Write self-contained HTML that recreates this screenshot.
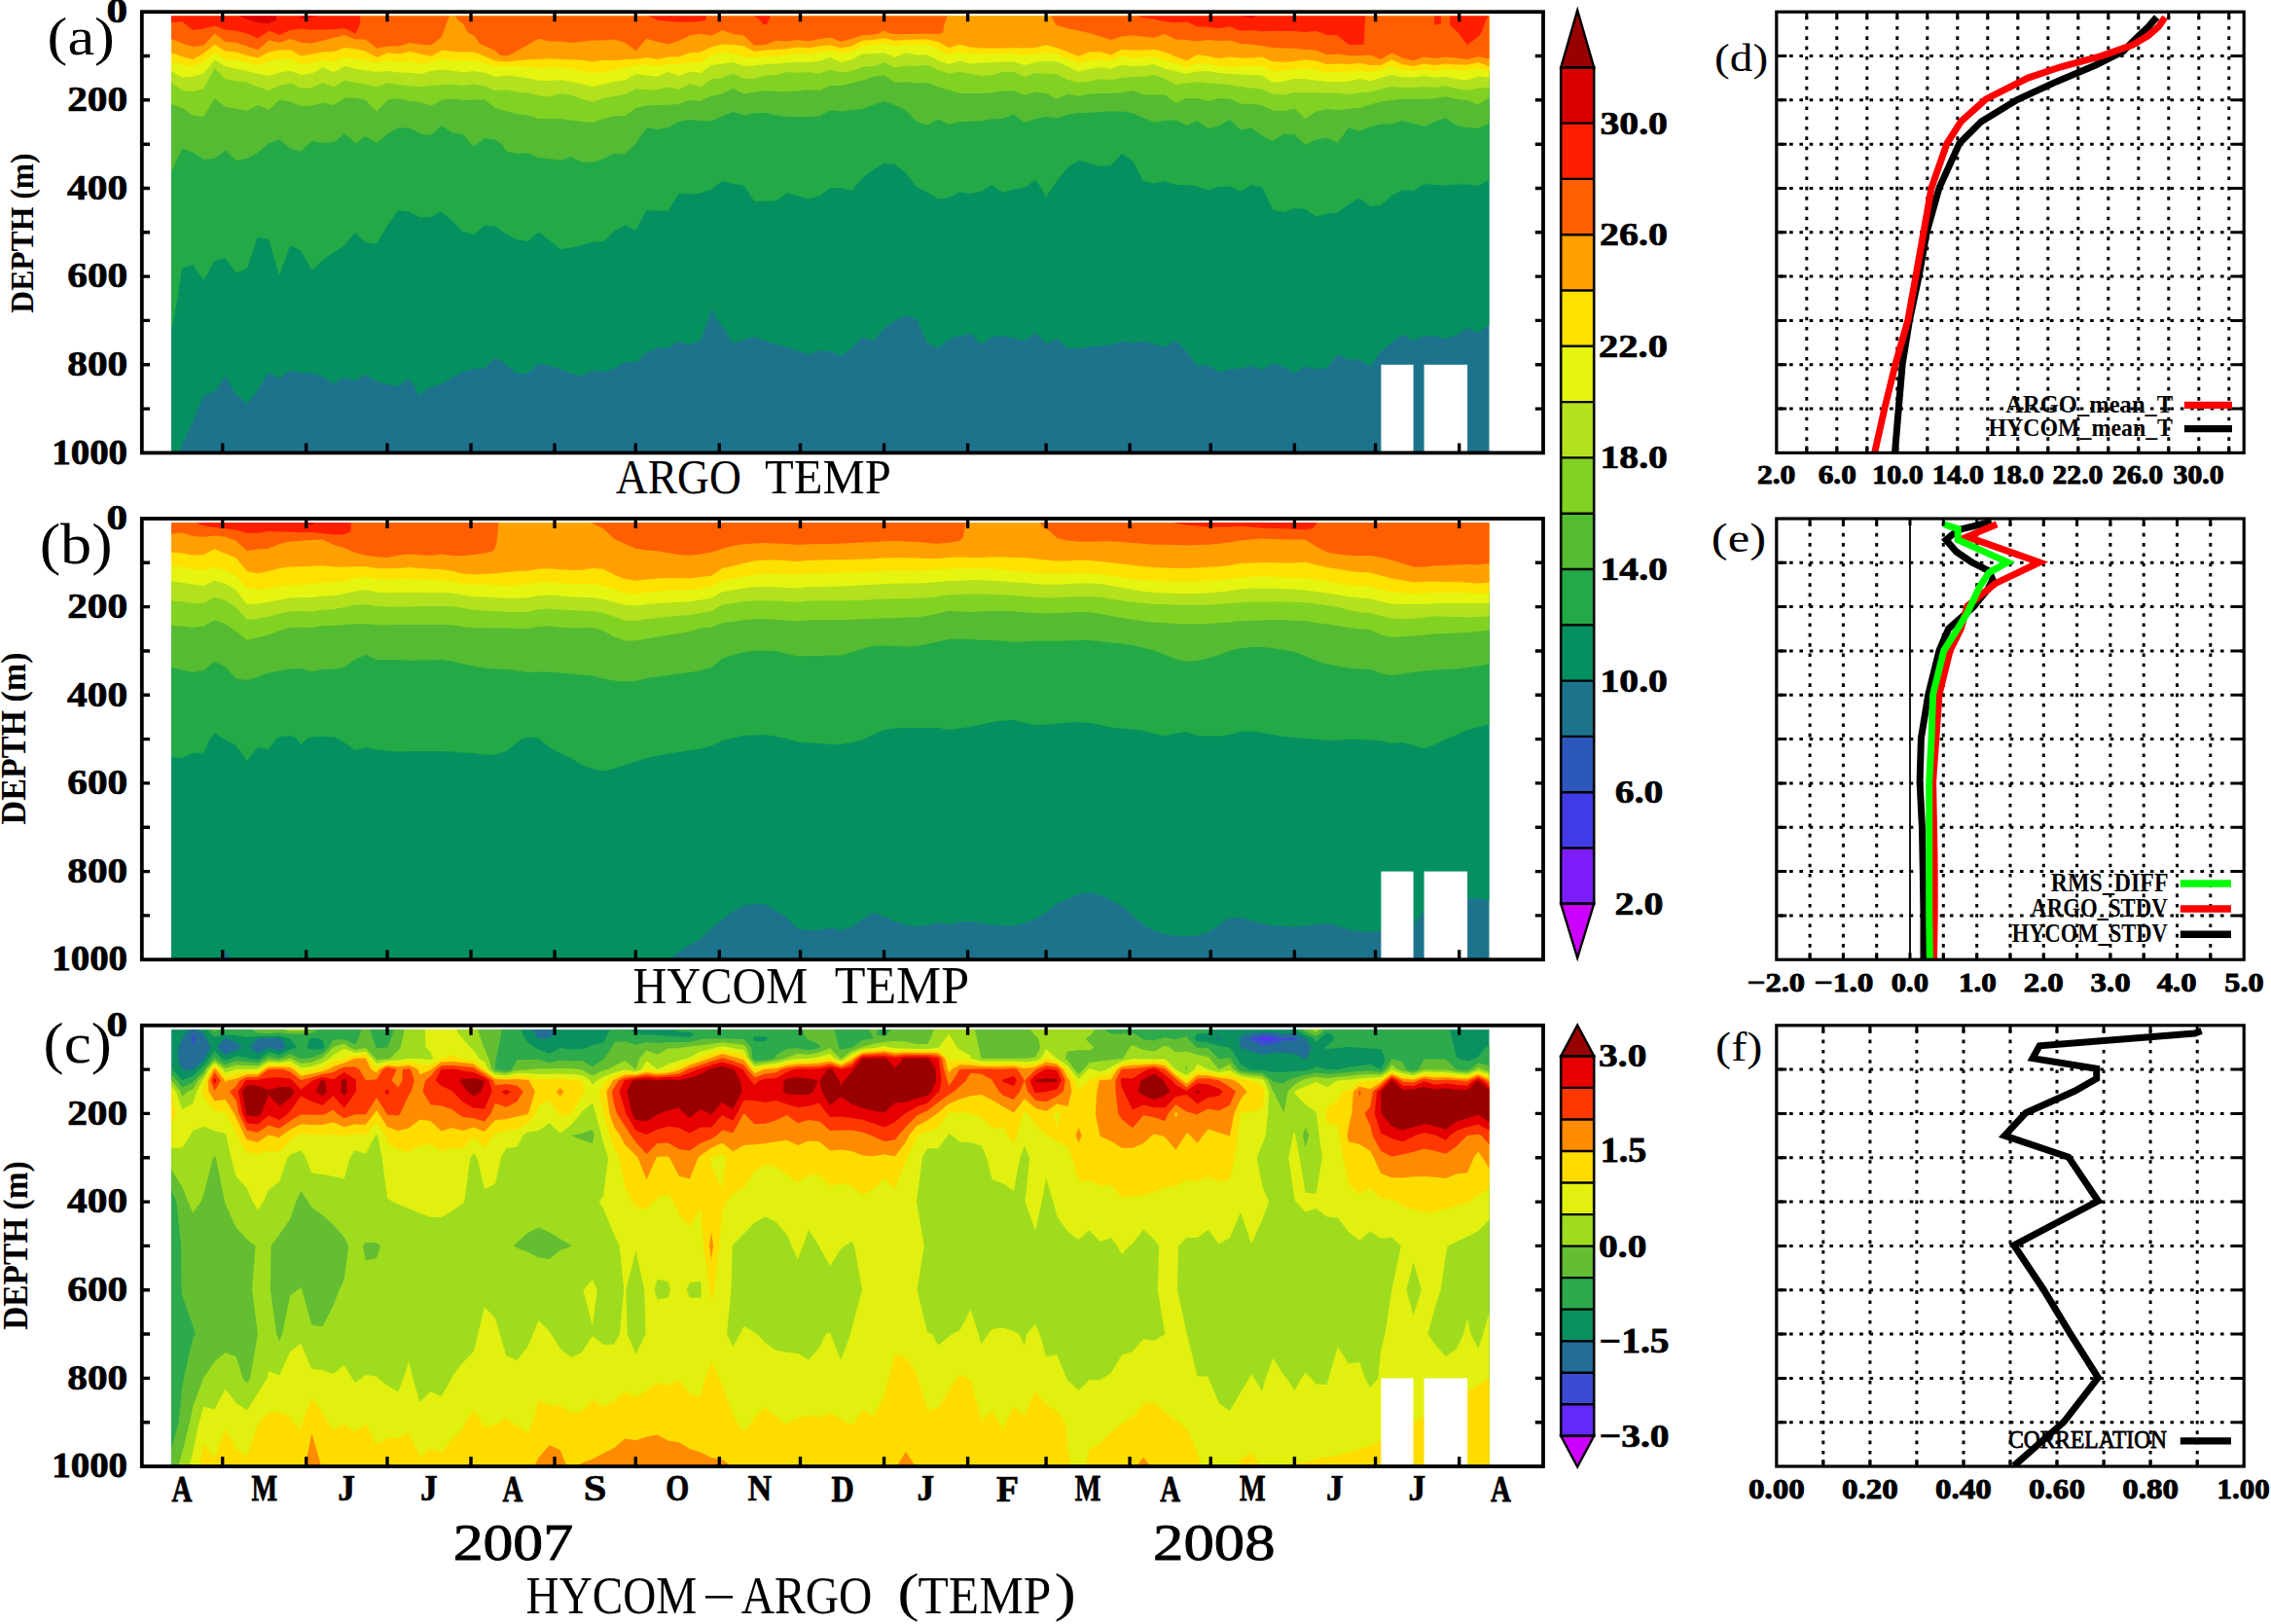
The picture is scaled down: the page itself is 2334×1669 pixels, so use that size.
<!DOCTYPE html>
<html><head><meta charset="utf-8"><title>HYCOM-ARGO TEMP</title>
<style>html,body{margin:0;padding:0;background:#fff}svg{display:block}text{font-family:"Liberation Serif",serif}</style></head>
<body>
<svg width="2334" height="1669" viewBox="0 0 2334 1669">
<g id="pa"><rect x="176.1" y="16.4" width="1354.4" height="449" fill="#1E738C"/>
<polygon fill="#05915F" points="176.1,463.6 185,463.6 187.2,457 198.2,433 209.4,406.6 220.4,402.6 231.6,386.6 242.6,405 253.8,415 264.8,401 276,382.6 287,389 298.2,380.6 309.2,383 320.4,383.4 331.4,387 342.6,394 353.6,388 364.8,391 375.8,385 387,391.4 398,395 409.2,397 420.2,388.6 431.4,406.6 442.4,397.4 453.6,395 464.6,388 475.8,382 486.8,379 498,378.6 509,367 520.2,375 531.2,384 542.4,384 553.4,373.4 564.6,376 575.6,379 586.8,384 597.8,386.6 609,380.6 620,382 631.2,379 642.2,372 653.4,372.6 664.4,362.6 675.6,357.4 686.6,357.4 697.8,350.6 708.8,354.6 720,349.4 728,329 731.6,316.6 736,328 742.2,335 753.2,353 764.4,349 775.4,346 786.6,350 797.6,354 808.8,356.6 819.8,360.6 831,364.6 842,360 853.2,361 864.2,366 875.4,357.4 886.4,346.6 897.6,350.6 908.6,337.4 919.8,329.4 930.8,324.6 942,328 953,352.6 964.2,358 975.2,348.6 986.4,345.4 997.4,342.6 1008.6,354 1019.6,346 1030.8,345.4 1041.8,347 1053,350.6 1064,342 1075.2,353 1086.2,348 1097.4,358 1108.4,358 1119.6,356 1130.6,355.4 1141.8,354.6 1152.8,350.6 1164,352.6 1175,350.6 1186.2,354 1197.2,356.6 1208.4,350 1219.4,361 1230.6,376 1241.6,375 1252.8,382.6 1263.8,379.4 1275,379 1286,376 1297.2,380 1308.2,373 1319.4,377 1330.4,383.4 1341.6,376 1352.6,379.4 1363.8,378.6 1374.8,364 1386,369.4 1397,369.4 1408.2,376.6 1419.2,361 1430.4,352 1441.4,343.4 1452.6,350 1463.6,345 1474.8,345.4 1485.8,348 1497,344.6 1508.1,337 1519.2,342 1530.5,334 1530.5,16.4 176.1,16.4"/>
<polygon fill="#23AA46" points="176.1,340 182,309 187.2,275.4 198.2,272 209.4,288 220.4,268 231.6,265.4 242.6,280.6 253.8,276 264.8,244 276,245.4 287,283 298.2,252 309.2,257.4 320.4,277.4 331.4,267.4 342.6,259.4 353.6,252.6 364.8,239 375.8,249 387,250.6 398,232 409.2,216 420.2,217.4 431.4,223.4 442.4,223 453.6,217.4 464.6,227 475.8,238 486.8,241 498,231.4 509,232.6 520.2,240.6 531.2,246 542.4,248 553.4,238.6 564.6,246.6 575.6,256 586.8,254.6 597.8,252 609,248.6 620,248.3 631.2,237.4 642.2,231.4 653.4,236.6 664.4,216 675.6,216.6 686.6,216.6 697.8,198.6 708.8,199.4 720,198.6 731,194.6 742.2,186 753.2,189 764.4,190.6 775.4,207 786.6,206.6 797.6,206.6 808.8,198 819.8,201 831,204.6 842,201.4 853.2,193 864.2,193 875.4,196 886.4,182.6 897.6,174.6 908.6,168 919.8,169 930.8,177.4 942,192 953,197.4 964.2,204.6 975.2,203 986.4,197.4 997.4,199 1008.6,196.6 1019.6,190 1030.8,198 1041.8,194.6 1053,193 1064,184.8 1070,193 1075.2,202.6 1081,193 1086.2,186 1097.4,172 1108.4,165 1119.6,167.4 1130.6,171 1141.8,170 1152.8,158 1164,165 1175,186 1186.2,188.6 1197.2,186 1208.4,190 1219.4,190 1230.6,191.4 1241.6,195.4 1252.8,192 1263.8,191.4 1275,196.6 1286,190 1297.2,192.6 1308.2,215.4 1319.4,218 1330.4,214 1341.6,215 1352.6,222.6 1363.8,219.4 1374.8,218.6 1386,210 1397,203.4 1408.2,212 1419.2,210.6 1430.4,201 1441.4,195.4 1452.6,196 1463.6,189 1474.8,190 1485.8,190.6 1497,189.4 1508.1,189.4 1519.2,191 1530.5,184.6 1530.5,16.4 176.1,16.4"/>
<polygon fill="#55BB32" points="176.1,177 187.2,152.6 198.2,156.6 209.4,164 220.4,163 231.6,154.6 242.6,165 253.8,163 264.8,157 276.2,147.2 287.3,143.2 298.3,152.6 309.2,155.4 320.6,145 331.8,146.7 343.1,146.1 354.3,137.5 365.5,147.4 375.4,140.1 387.3,146.7 398.5,137.5 409.8,131.3 421,131.8 432.2,137.5 443.4,138.8 454,128.9 464.6,136.2 475.7,138.1 486.9,150.6 498,142.1 509.1,143.4 515.5,148 520.2,155.4 531.2,158 542.4,157.4 553.4,162 564.6,163 575.6,165 586.8,161 597.8,166.6 609,167 620,163.2 631.2,157.4 642.2,158.6 653.4,147.4 664.5,131.3 675.6,133.1 686.7,130.9 697.8,124.9 708.9,122.9 720,124.3 731.1,124.3 742.2,119.6 753.3,115 764.4,118.6 775.5,116.3 786.6,115.9 797.7,118.6 808.8,119.9 819.9,119.9 831,120.3 842.1,119.4 853.2,113.3 864.3,114.4 875.4,113.3 886.5,112 897.6,107.8 908.7,104.1 919.7,108 930.8,113.3 941.9,124.9 953,128.6 964.1,122.5 975.2,127.8 986.3,124.9 997.4,124.9 1008.5,124.3 1019.6,122.3 1030.7,122.3 1041.8,117.3 1052.9,126 1064,122.3 1075.1,119.9 1086.2,121.6 1097.3,117.7 1108.4,116.3 1119.5,115.7 1130.6,115 1141.7,114.6 1152.8,114.6 1163.9,116.3 1175,121.2 1186.1,125.6 1197.2,123.9 1208.3,123.3 1219.4,128.9 1230.5,124.3 1241.6,132.2 1252.7,129.6 1263.8,122.9 1274.9,133.5 1286,131.8 1297.1,139.5 1308.2,144.9 1319.3,138 1330.4,138.1 1341.5,149 1352.6,143.4 1363.7,141.8 1374.8,147.1 1385.9,131.3 1397,134.8 1408.1,130.2 1419.2,127.8 1430.3,127.6 1441.4,124.3 1452.5,126.9 1463.6,129.9 1474.7,124.9 1485.8,121.2 1496.9,128.9 1508,131.3 1519.1,131.8 1530.5,126.9 1530.5,16.4 176.1,16.4"/>
<polygon fill="#82D223" points="176.1,107.1 187.2,111.1 198.1,118.6 209.2,119.9 220.6,101.1 231.4,109.7 242.7,111.7 253.9,113.7 265.1,108 276.3,113 287.3,102.5 298.4,104.5 309.4,109.1 320.6,108.4 331.8,105.4 343.1,108 354.3,100.5 365.5,100.5 375.4,102.5 387.3,114.4 398.5,102.5 409.8,101.1 421,104.1 432.2,105.1 443.4,108.8 454,102.5 468.5,101.8 475.7,102.9 486.9,102.5 498,102.5 509.1,111.1 520.2,114.6 531.3,117 542.4,118.6 553.5,122 564.6,122 575.7,122 586.8,123.6 597.9,124.9 609,126 620.1,122 631.2,119.4 642.3,119 653.4,111.1 664.5,108.4 675.6,108 686.7,107.8 697.8,107.1 708.9,102.7 720,104.1 731.1,98.5 742.2,96.5 753.3,90.8 764.4,96.5 775.5,94.5 786.6,93 797.7,93.9 808.8,93.9 819.9,93.5 831,92.2 842.1,93 853.2,87.9 864.3,87.9 875.4,85.6 886.5,82.4 897.6,78.7 908.7,77.4 919.7,85 930.8,84.2 941.9,85.6 953,85 964.1,89.3 975.2,92.6 986.3,95.9 997.4,96.1 1008.5,96.1 1019.6,95.2 1030.7,93.5 1041.8,92.9 1052.9,97.8 1064,94.5 1075.1,95.9 1086.2,101.8 1097.3,96.5 1108.4,98.8 1119.5,96.5 1130.6,96.1 1141.7,96.1 1152.8,95.2 1163.9,93.2 1175,97.2 1186.1,97.2 1197.2,97.5 1208.3,105.8 1219.4,101.1 1230.5,101.1 1241.6,104.1 1252.7,101.1 1263.8,101.4 1274.9,106.7 1286,106.7 1297.1,108.2 1308.2,113.4 1319.3,113.9 1330.4,111.8 1341.5,122 1352.6,114.4 1363.7,112 1374.8,113.3 1385.9,111.7 1397,111.1 1408.1,107.5 1419.2,104.5 1430.3,103.1 1441.4,101.8 1452.5,101.8 1463.6,101.8 1474.7,101.1 1485.8,99.2 1496.9,101.8 1508,103.1 1519.1,107.5 1526.5,102.5 1530.5,101.1 1530.5,16.4 176.1,16.4"/>
<polygon fill="#B4E11E" points="176.1,84.6 187.2,93 198.1,93.9 209.2,91.6 220.6,69.7 231.4,81.3 242.7,83.3 253.9,84.6 265.1,89.3 276.3,93 287.3,87.9 298.4,85.6 309.4,90.8 320.6,89.9 331.8,85 343.1,89.3 354.3,82.7 365.5,85 375.4,86.6 387.3,89.3 398.5,85.3 409.8,86.9 421,88.2 432.2,89 443.4,87.7 454,87.3 464.6,86.4 475.7,87.9 486.9,86.4 498,88.6 509.1,93.2 520.2,92.2 531.3,94.5 542.4,95.2 553.5,98.2 564.6,99.6 575.7,96.1 586.8,97.5 597.9,101.8 609,104.8 620.1,101.1 631.2,98.8 642.3,96.9 653.4,91.2 664.5,92.2 675.6,92.2 686.7,89.5 697.8,91.9 708.9,86 720,89.3 731.1,81.3 742.2,80 753.3,75.4 764.4,80.7 775.5,80.7 786.6,77.4 797.7,77.1 808.8,74.1 819.9,74.7 831,74.1 842.1,75.4 853.2,71.8 864.3,74.5 875.4,73.1 886.5,68.4 897.6,68.1 908.7,64.2 919.7,69.4 930.8,67.5 941.9,67.9 953,66.8 964.1,72.1 975.2,75.4 986.3,73.7 997.4,76.1 1008.5,78 1019.6,77.1 1030.7,74.1 1041.8,73.7 1052.9,79 1064,75 1075.1,75.8 1086.2,76.3 1097.3,82 1108.4,84.6 1119.5,83.7 1130.6,81.3 1141.7,82 1152.8,80 1163.9,79 1175,78.7 1186.1,77.1 1197.2,80.7 1208.3,86.9 1219.4,85.6 1230.5,84.2 1241.6,85.6 1252.7,86 1263.8,87.3 1274.9,89 1286,90.6 1297.1,91.4 1308.2,96.5 1319.3,97.6 1330.4,94.9 1341.5,95.2 1352.6,95.2 1363.7,95.6 1374.8,95.6 1385.9,96.9 1397,95.2 1408.1,94.5 1419.2,91.6 1430.3,89 1441.4,89.9 1452.5,89.9 1463.6,89 1474.7,89.9 1485.8,88.2 1496.9,91.2 1508,92.6 1519.1,90.6 1530.5,89.9 1530.5,16.4 176.1,16.4"/>
<polygon fill="#E5F50F" points="176.1,73.1 187.2,79.4 198.1,78.7 209.2,75.4 220.6,61.5 231.4,68.1 242.7,70.8 253.9,73.1 265.1,75.8 276.3,78 287.3,74.5 298.4,72.7 309.4,77.1 320.6,75.4 331.8,69.2 343.1,74.1 354.3,68.1 365.5,70.8 375.4,72.4 387.3,74.1 398.5,73.1 409.8,74.5 421,74.7 432.2,76.1 443.4,73.1 454,71.4 468.5,73.1 475.7,74.5 486.9,73.1 498,74.7 509.1,79 520.2,77.6 531.3,78.7 542.4,80.3 553.5,82.4 564.6,82.9 575.7,82 586.8,83.7 597.9,86.6 609,89 620.1,86.4 631.2,84 642.3,82.4 653.4,75.8 664.5,77.6 675.6,78.7 686.7,73.7 697.8,78 708.9,73.4 720,75 731.1,67.1 742.2,65.5 753.3,64 764.4,67.9 775.5,67.5 786.6,66.1 797.7,65.5 808.8,64.4 819.9,63.5 831,63.9 842.1,62.8 853.2,59.1 864.3,64.2 875.4,61.3 886.5,55.2 897.6,55.2 908.7,54.3 919.7,58.9 930.8,54.3 941.9,56.5 953,56.2 964.1,62.2 975.2,66.1 986.3,62.6 997.4,65.5 1008.5,64.4 1019.6,64.2 1030.7,63.5 1041.8,63.2 1052.9,67.1 1064,63.9 1075.1,63.1 1086.2,63.5 1097.3,68.1 1108.4,73.7 1119.5,71 1130.6,69.2 1141.7,70.8 1152.8,66.8 1163.9,68.1 1175,67.5 1186.1,66.1 1197.2,70.8 1208.3,73.1 1219.4,76.1 1230.5,73.4 1241.6,73.1 1252.7,75 1263.8,75.8 1274.9,76.3 1286,77.1 1297.1,77.5 1308.2,84.8 1319.3,83.5 1330.4,81.1 1341.5,81.3 1352.6,82.4 1363.7,84 1374.8,84 1385.9,83.7 1397,81.1 1408.1,83.3 1419.2,80 1430.3,76.7 1441.4,79.4 1452.5,79.4 1463.6,78 1474.7,79.7 1485.8,78.7 1496.9,81.3 1508,82.4 1519.1,78.4 1530.5,79.4 1530.5,16.4 176.1,16.4"/>
<polygon fill="#FFE100" points="176.1,63.5 187.2,67.1 198.1,68.1 209.2,63.5 220.6,54.3 231.4,60.9 242.7,61.5 253.9,64.2 265.1,66.8 276.3,62.8 287.3,60.9 298.4,60.9 309.4,66.1 320.6,64.2 331.8,61.8 343.1,63.5 354.3,58.6 365.5,60.9 375.4,62.2 387.3,64.8 398.5,61.8 409.8,63.9 421,62.2 432.2,65.5 443.4,63.5 454,60.2 468.5,62.8 475.7,62.8 486.9,62.2 498,64.8 509.1,68.1 520.2,68.1 531.3,67.9 542.4,68.4 553.5,69.7 564.6,68.8 575.7,69.2 586.8,70.8 597.9,73.1 609,75 620.1,74.1 631.2,72.1 642.3,70.1 653.4,67.1 664.5,66.5 675.6,68.1 686.7,65.5 697.8,66.1 708.9,63.9 720,64.4 731.1,56.2 742.2,53.3 753.3,54.9 764.4,58.6 775.5,59.5 786.6,57.8 797.7,57.8 808.8,56.5 819.9,54.9 831,55.6 842.1,53.6 853.2,52 864.3,55.2 875.4,52.9 886.5,47.6 897.6,46.3 908.7,45 919.7,47.3 930.8,45.7 941.9,45.7 953,45.4 964.1,51 975.2,56.5 986.3,53.3 997.4,55.2 1008.5,55.6 1019.6,56 1030.7,55.2 1041.8,54.9 1052.9,57.3 1064,55.6 1075.1,54.3 1086.2,55.6 1097.3,60.9 1108.4,64.8 1119.5,62.2 1130.6,60.9 1141.7,63.1 1152.8,57.3 1163.9,59.9 1175,59.1 1186.1,57.8 1197.2,62.2 1208.3,64.8 1219.4,68.8 1230.5,64.4 1241.6,65.5 1252.7,68.1 1263.8,68.8 1274.9,68.1 1286,67.5 1297.1,68 1308.2,73.6 1319.3,72.9 1330.4,71.2 1341.5,70.1 1352.6,71.8 1363.7,74.5 1374.8,74.1 1385.9,73.7 1397,72.4 1408.1,74.5 1419.2,71.8 1430.3,67.5 1441.4,72.1 1452.5,73.1 1463.6,71.4 1474.7,73.1 1485.8,71 1496.9,72.1 1508,72.4 1519.1,70.1 1530.5,73.7 1530.5,16.4 176.1,16.4"/>
<polygon fill="#FFA000" points="176.1,54.3 187.2,58.2 198.1,60.9 209.2,54.9 220.6,45.7 231.4,52.5 242.7,53.6 253.9,56.9 265.1,59.5 276.3,53.6 287.3,51.6 298.4,51.2 309.4,57.6 320.6,55.6 331.8,53.6 343.1,52.9 354.3,49 365.5,50.3 375.4,52.5 387.3,58.9 398.5,54.3 409.8,55.6 421,52.9 432.2,55.6 443.4,57.8 454,51.6 468.5,53.6 475.7,53.6 486.9,53.6 498,57.8 509.1,62.6 520.2,63.5 531.3,62.2 542.4,61.3 553.5,60.9 564.6,60.2 575.7,60.9 586.8,61.3 597.9,61.8 609,63.5 620.1,61.8 631.2,62.2 642.3,60.9 653.4,60.9 664.5,59.1 675.6,60.9 686.7,58.6 697.8,58.2 708.9,54.3 720,53.6 731.1,48.3 742.2,45.4 753.3,46 764.4,47.3 775.5,52.9 786.6,51.6 797.7,51 808.8,50.3 819.9,48.6 831,49.6 842.1,47.6 853.2,46.3 864.3,49.6 875.4,47.3 886.5,41.7 897.6,41 908.7,39.3 919.7,41.7 930.8,41 941.9,40.6 953,40.6 964.1,43 975.2,49 986.3,45.7 997.4,48.6 1008.5,49.4 1019.6,49.6 1030.7,49.4 1041.8,49.2 1052.9,49.6 1064,49 1075.1,46.3 1086.2,49 1097.3,53.6 1108.4,57.8 1119.5,53.6 1130.6,53.3 1141.7,56.5 1152.8,51 1163.9,51.6 1175,51.6 1186.1,50.7 1197.2,53.6 1208.3,58.2 1219.4,62.2 1230.5,56.2 1241.6,57.8 1252.7,59.9 1263.8,58.6 1274.9,59.5 1286,59.5 1297.1,58.4 1308.2,63.2 1319.3,63.9 1330.4,63.1 1341.5,61.3 1352.6,62.6 1363.7,66.1 1374.8,65.5 1385.9,66.1 1397,64.8 1408.1,67.1 1419.2,67.1 1430.3,61.3 1441.4,66.1 1452.5,68.1 1463.6,65.5 1474.7,67.1 1485.8,65.5 1496.9,66.5 1508,66.5 1519.1,63.9 1530.5,68.1 1530.5,16.4 176.1,16.4"/>
<polygon fill="#FF5F00" points="176.1,40.1 187.2,44.6 198.1,47.9 209.2,46.7 220.6,34.4 231.4,43 242.7,43.7 253.9,47.6 265.1,51.2 276.3,41.4 287.3,43.7 298.4,40.1 309.4,43.7 320.6,44.6 331.8,41.7 343.1,38.8 354.3,36.2 365.5,40.6 375.4,40.6 387.3,49.6 398.5,47.6 409.8,47.6 421,44.1 432.2,45.7 443.4,46.3 454,37.7 459.3,23.2 461.9,16.4 461.9,16.4 176.1,16.4"/>
<polygon fill="#FF5F00" points="467.9,16.4 471.2,21.2 475.9,24.5 481.1,33.8 487.1,36.4 493.7,45.4 498.3,47 509.1,52.3 513.5,56.5 520.1,57.3 524.7,56.2 531.3,52.3 542.6,45.9 553.5,39.7 564.6,42.4 575.7,42.4 586.8,44.1 597.9,42.8 609,41.4 620.1,41.4 631.2,40.6 642.3,43.7 653.4,52.3 664.5,39.7 675.6,43 686.7,45.4 697.8,41.7 708.9,36.4 720,34.8 731.1,36.7 742.2,31.1 753.3,34.9 764.4,36.4 775.5,46.7 786.6,45.9 797.7,41.7 808.8,42.4 819.9,41 831,42.4 842.1,40.1 853.2,38.4 864.3,42.8 875.4,39.7 886.5,36.2 897.6,35.4 903.2,34.4 908.7,31.5 913.8,34 919.7,35.1 930.8,35.1 941.9,34.8 953,34.8 964.1,34.8 969.3,33.8 969.9,27.2 973.6,16.4 973.6,16.4 467.9,16.4"/>
<polygon fill="#FF5F00" points="1080.3,16.4 1085.6,25.9 1097.3,29.2 1108.4,31.4 1119.5,34 1130.6,37.5 1141.7,41 1152.8,37.5 1163.9,36.2 1175,37.7 1186.1,38.8 1197.2,35.1 1208.3,40.6 1219.4,41 1230.5,42.4 1241.6,41 1252.7,42 1263.8,41.4 1274.9,45 1286,45.4 1297.1,47.3 1308.2,49 1319.3,49.5 1330.4,49.8 1341.5,51 1352.6,51.6 1363.7,56.2 1374.8,55.6 1385.9,56.9 1397,57.3 1408.1,56.5 1419.2,60.9 1430.3,54.3 1441.4,59.5 1452.5,62.2 1463.6,58.6 1474.7,59.9 1485.8,58.6 1496.9,59.5 1508,60.9 1519.1,58.2 1530.5,60.5 1530.5,16.4 1080.3,16.4"/>
<polygon fill="#FF1E00" points="1168.8,16.4 1175,18.2 1186.1,19.5 1197.2,22.2 1208.3,23.2 1219.4,22.5 1230.5,27.2 1241.6,27.8 1252.7,29.2 1263.8,27.2 1274.9,31.8 1286,30.9 1297.1,32.3 1308.2,31.8 1319.3,32 1330.4,32.1 1341.5,33.1 1352.6,31.8 1363.7,35.8 1374.8,36.4 1385.9,45.7 1397,45.9 1402,45.4 1402.3,29.8 1403.3,16.4 1403.3,16.4 1168.8,16.4"/>
<polygon fill="#FF1E00" points="175.9,16.4 175.9,23.2 187.2,21.9 198.1,30.9 209.2,29.6 220.6,26.5 231.4,30.5 242.7,31.8 253.9,34.4 265.1,39.3 276.3,31.8 287.3,35.8 298.4,31.1 309.4,29.6 320.6,30.5 331.8,30.5 343.1,30.1 354.3,28.9 365.5,34.4 370.1,24.5 370.1,16.4"/>
<polygon fill="#D90000" points="246.6,16.4 254.5,19.9 265.1,23.2 276.3,24.3 284.3,20.6 284.3,16.4"/>
<polygon fill="#D90000" points="308,19.2 327.2,16.4 310,16.4"/>
<polygon fill="#FF1E00" points="666.7,16.4 675.6,20.6 686.7,21.9 697.8,22.8 708.9,22.8 720,21.9 725.5,20.6 726.2,16.4"/>
<polygon fill="#FF1E00" points="775.1,16.4 781,20.6 783.7,24.8 788.3,25.2 791.6,16.4"/>
<polygon fill="#FF1E00" points="1474,16.4 1480.9,16.4 1480.9,24.8 1474,25.6"/>
<polygon fill="#FF1E00" points="1490.1,16.4 1490.1,25.2 1498.7,33.8 1508,46.3 1519.1,37.7 1522.5,33.8 1526.5,21.9 1529.8,16.4"/>
<polygon fill="#D90000" points="1275.1,16.4 1291,16.4 1285.7,18.2"/>
<rect x="1419.4" y="374.8" width="33.2" height="91.6" fill="#fff"/>
<rect x="1463.6" y="374.8" width="44.5" height="91.6" fill="#fff"/></g>
<g id="pb"><rect x="176.1" y="537.2" width="1354.4" height="449" fill="#1E738C"/>
<polygon fill="#05915F" points="176.1,986.2 688,986.2 697.8,978 708.8,971 720,965 731,954.6 742.2,945 753.2,936.6 764.4,930.6 775.4,929 786.6,929.4 797.6,936 808.8,943 819.8,954.6 831,956 842,956 853.2,953.4 864.2,956 875.4,953 886.4,944.6 897.6,938 908.6,942 919.8,947 930.8,950.6 942,952 953,951 964.2,948 975.2,950 986.4,947.4 997.4,947 1008.6,948.6 1019.6,950.6 1030.8,951.4 1041.8,951 1053,949 1064,944 1075.2,937.4 1086.2,928.6 1097.4,924 1108.4,918.6 1119.6,917.4 1130.6,919.4 1141.8,925 1152.8,931 1164,940.6 1175,950 1186.2,956.6 1197.2,960 1208.4,961.4 1219.4,962 1230.6,961.4 1241.6,958 1252.8,951 1263.8,943 1275,942.6 1286,946.6 1297.2,949 1308.2,951.4 1319.4,952 1330.4,952.6 1341.6,951.4 1352.6,950 1363.8,949 1374.8,951.4 1386,955.4 1397,957 1408.2,957.4 1419.2,956.6 1436,954 1452.6,950.6 1463.6,936 1486,927 1508.1,923 1519.2,923.4 1530.5,925.4 1530.5,537.2 176.1,537.2"/>
<polygon fill="#23AA46" points="176.1,778 187.2,779 198.2,774 209.4,773.4 216,759 220.4,753.4 231.6,760 242.6,766 253.8,782 264.8,768 276,770 284,759 287,757.4 298.2,756 305,759 309.2,765 316,759 320.4,757.4 331.4,757 342.6,757.4 348,759 353.6,763 364.8,771 375.8,768 387,770.6 398,771.4 409.2,772.6 420.2,772 431.4,772 442.4,772 453.6,772 464.6,772.6 475.8,773.4 486.8,774 498,775.4 509,775.4 520.2,772 531.2,763 537,759 542.4,757.4 553.4,758.6 564.6,768 575.6,774 586.8,779 597.8,786 609,790 620,792.3 631.2,790 642.2,786 653.4,782.6 664.4,779 675.6,776.6 686.6,774.6 697.8,773 708.8,771 720,769.4 731,766.6 742.2,761 753.2,758.6 764.4,756 775.4,755.4 786.6,755 797.6,757 808.8,759 819.8,762.6 831,763 842,764 853.2,765 864.2,765 875.4,763 886.4,760.6 897.6,755 908.6,750 919.8,748.6 930.8,748 942,748 953,748 964.2,748 975.2,750 986.4,748.6 997.4,747 1008.6,744.6 1019.6,742 1030.8,740.6 1041.8,740 1053,743 1064,745 1075.2,744.6 1086.2,743.4 1097.4,742.6 1108.4,742 1119.6,743 1130.6,745 1141.8,747.4 1152.8,748.6 1164,749.4 1175,751 1186.2,754 1197.2,756.6 1208.4,753.4 1219.4,752 1230.6,756 1241.6,756.6 1252.8,756.6 1263.8,755 1275,752 1286,751.4 1297.2,753 1308.2,755 1319.4,757 1330.4,758 1341.6,759 1352.6,760 1363.8,761 1374.8,760.6 1386,760 1397,760 1408.2,760.6 1419.2,761.4 1430.4,764 1441.4,763 1452.6,766 1463.6,769 1474.8,765 1485.8,760 1497,755 1508.1,750.3 1519.2,747 1530.5,744.6 1530.5,537.2 176.1,537.2"/>
<polygon fill="#55BB32" points="176.1,686 187.2,688.6 198.2,691 209.4,689 220.4,680 231.6,685.4 242.6,697.4 253.8,699 264.8,696 276,691.4 287,689.4 298.2,687.4 309.2,687 320.4,690 331.4,688 342.6,688 353.6,686 364.8,678 375.8,673 387,678 398,678 409.2,678 420.2,679 431.4,678.6 442.4,678.6 453.6,678 464.6,679.4 475.8,682.6 486.8,684.6 498,686.6 509,687.4 520.2,688 531.2,689 542.4,691 553.4,690.6 564.6,690.6 575.6,691.4 586.8,692.6 597.8,693.4 609,694.6 620,697.4 631.2,699.4 642.2,700.6 653.4,700 664.4,697 675.6,695.4 686.6,694 697.8,692.6 708.8,691 720,689 731,686 742.2,677 753.3,673 764.4,670.3 775.4,668.7 786.6,668.5 797.6,669.2 808.8,671.9 819.8,674.6 831,674 842,674 853.2,673.4 864.2,673.4 875.4,670.3 886.5,666.7 897.6,663.7 908.7,663.4 919.7,664.1 930.8,664.5 941.9,664.1 953,662.1 964.1,659.5 975.2,657.1 986.3,656.8 997.4,656.8 1008.5,657.9 1019.6,658.1 1030.7,658.8 1041.8,660.1 1052.9,659.5 1064,658.8 1075.1,658.8 1086.2,658.8 1097.3,658.4 1108.4,657.9 1119.5,658.1 1130.6,659.2 1141.7,660.5 1152.8,661.4 1163.9,663.2 1175,665.8 1186.2,668.4 1197.2,672.8 1208.4,677.4 1219.4,680 1230.6,679 1241.6,676.6 1252.8,673 1263.8,668.7 1274.9,666.3 1286,665 1297.1,665 1308.2,666.3 1319.3,668 1330.4,670.1 1341.6,674.6 1352.6,679 1363.8,682.6 1374.8,684.6 1386,686.6 1397,687.4 1408.2,688 1419.2,692 1430.4,694 1441.4,692.6 1452.6,691 1463.6,689.4 1474.8,688.6 1485.8,688 1497,687.4 1508.1,686 1519.2,684.6 1530.5,682.6 1530.5,537.2 176.1,537.2"/>
<polygon fill="#82D223" points="176.1,642.9 187.2,643.6 198.3,644.9 209.4,643.6 220.5,637.3 231.6,641.2 242.7,648.9 253.8,657.9 264.8,655.2 275.9,652.6 287,648.2 298.1,644.9 309.2,644.7 320.3,644.9 331.4,642.9 342.5,642.9 353.6,642 364.7,641.2 375.8,641 386.9,642.3 398,642.3 409.1,642 420.2,642 431.3,642 442.4,642 453.5,642 464.7,642.3 475.9,644.3 486.9,645.2 498,645.6 509.1,645.6 520.2,645.6 531.3,646 542.4,646 553.5,643.9 564.6,643.3 575.7,644.7 586.8,645.2 597.9,645.2 609,644.9 620.1,648.2 631.2,654.4 642.3,658.4 653.4,658.4 664.5,656.2 675.6,654.4 686.7,652.6 697.8,650.9 708.9,648.9 720,645.6 731.1,644.7 742.2,640.3 753.3,638.8 764.4,637.3 775.5,636.3 786.6,635.9 797.7,636.7 808.8,637.7 819.9,638.3 831,637.3 842.1,637.3 853.2,637.3 864.3,637 875.4,636.7 886.5,636.3 897.6,635.7 908.7,635.4 919.7,635 930.8,634.6 941.9,634.4 953,632.8 964.1,630.4 975.2,627.8 986.3,628.4 997.4,629.1 1008.5,628.4 1019.6,628 1030.7,628 1041.8,628.3 1052.9,629.3 1064,630.1 1075.1,630.4 1086.2,630.1 1097.3,629.7 1108.4,629.1 1119.5,629.3 1130.6,630.7 1141.7,633 1152.8,635 1163.9,636.7 1175,638.3 1186.1,639.4 1197.2,640.3 1208.3,641 1219.4,641.2 1230.5,641.2 1241.6,641 1252.7,640.3 1263.8,639.4 1274.9,638.3 1286,637.7 1297.1,637.5 1308.2,637.1 1319.3,637.1 1330.4,637.7 1341.5,638.3 1352.6,639.9 1363.7,641.6 1374.8,642.9 1385.9,644.9 1397,646.2 1408.1,647.3 1419.2,652.2 1430.3,654.8 1441.4,654.2 1452.5,653.5 1463.6,652.6 1474.7,651.3 1485.8,650.9 1496.9,650.5 1508,649.9 1519.1,648.9 1530.5,647.8 1530.5,537.2 176.1,537.2"/>
<polygon fill="#B4E11E" points="176.1,617.5 187.2,618.2 198.3,620.1 209.4,619.8 220.5,613.5 231.6,617.2 242.7,624.1 253.8,637 264.8,635.7 275.9,633.7 287,630.7 298.1,628.4 309.2,628 320.3,628.8 331.4,626.4 342.5,626.2 353.6,624.1 364.7,621.8 375.8,620.9 386.9,623.1 398,623.5 409.1,623.5 420.2,623.5 431.3,623.1 442.4,623.1 453.5,623.1 464.7,622.9 475.9,625.1 486.9,626.7 498,627.5 509.1,628 520.2,628.8 531.3,629.1 542.4,628.8 553.5,626.2 564.6,625.4 575.7,626.4 586.8,627.1 597.9,627.8 609,628 620.1,630.1 631.2,633.7 642.3,637.7 653.4,638.1 664.5,636.3 675.6,635 686.7,633.7 697.8,632.8 708.9,632 720,630.1 731.1,628 742.2,621.4 753.3,620 764.4,618.2 775.5,617.2 786.6,617.2 797.7,617.5 808.8,618.2 819.9,618.8 831,617.5 842.1,617.2 853.2,617.2 864.3,617.2 875.4,616.9 886.5,616.9 897.6,616.1 908.7,615.6 919.7,615.2 930.8,615.2 941.9,614.8 953,614.3 964.1,613 975.2,611.2 986.3,610.8 997.4,610.6 1008.5,610.6 1019.6,610.8 1030.7,611.2 1041.8,612.1 1052.9,613 1064,613.9 1075.1,614.3 1086.2,614.3 1097.3,613.5 1108.4,613 1119.5,613 1130.6,613.5 1141.7,615.6 1152.8,617.2 1163.9,618.8 1175,619.8 1186.1,620.9 1197.2,621.1 1208.3,621.4 1219.4,621.8 1230.5,621.8 1241.6,621.4 1252.7,620.9 1263.8,620.1 1274.9,619.2 1286,618.5 1297.1,618.4 1308.2,618.2 1319.3,618.4 1330.4,618.8 1341.5,619.2 1352.6,620.5 1363.7,622.2 1374.8,623.8 1385.9,627.1 1397,629.1 1408.1,630.1 1419.2,633 1430.3,635.4 1441.4,635.9 1452.5,635.7 1463.6,634.6 1474.7,633.3 1485.8,633.7 1496.9,634.1 1508,634.4 1519.1,633.7 1530.5,633.3 1530.5,537.2 176.1,537.2"/>
<polygon fill="#E5F50F" points="176.1,597.4 187.2,598.7 198.3,600.7 209.4,602 220.5,596.7 231.6,600 242.7,606.6 253.8,620.9 264.8,620.5 275.9,618.8 287,616.5 298.1,614.5 309.2,613.9 320.3,613.9 331.4,612.6 342.5,612.2 353.6,610.3 364.7,607.7 375.8,606 386.9,608.6 398,609.3 409.1,609 420.2,609 431.3,609 442.4,609.3 453.5,609 464.7,609.5 475.9,611.6 486.9,613.2 498,613.5 509.1,614.3 520.2,614.8 531.3,614.8 542.4,614.3 553.5,612.2 564.6,611.6 575.7,612.6 586.8,613.5 597.9,613.9 609,613.9 620.1,615.9 631.2,618.8 642.3,621.8 653.4,622.5 664.5,621.1 675.6,620.1 686.7,619.2 697.8,618.8 708.9,618.2 720,616.5 731.1,614.8 742.2,608.2 753.3,606.5 764.4,604.6 775.5,603.3 786.6,602.9 797.7,603.3 808.8,604 819.9,604.6 831,603.3 842.1,602.9 853.2,602.7 864.3,602.4 875.4,602 886.5,601.3 897.6,600.7 908.7,600 919.7,599.7 930.8,599.4 941.9,599.4 953,599 964.1,598 975.2,597.1 986.3,596.7 997.4,596.3 1008.5,596.3 1019.6,596.7 1030.7,597.4 1041.8,598.4 1052.9,599 1064,600 1075.1,600.7 1086.2,600.7 1097.3,600 1108.4,599.4 1119.5,599.4 1130.6,600 1141.7,602 1152.8,604 1163.9,606 1175,607.7 1186.1,609 1197.2,609.5 1208.3,609.9 1219.4,609.9 1230.5,609.9 1241.6,609.5 1252.7,608.6 1263.8,607.3 1274.9,605.6 1286,604.6 1297.1,604.8 1308.2,604.8 1319.3,605 1330.4,605.6 1341.5,606.4 1352.6,607.9 1363.7,609.5 1374.8,611.2 1385.9,613.2 1397,614.5 1408.1,615.2 1419.2,618.2 1430.3,620.5 1441.4,621.1 1452.5,621.1 1463.6,620.9 1474.7,620.1 1485.8,620.1 1496.9,620.1 1508,620.1 1519.1,620.1 1530.5,619.8 1530.5,537.2 176.1,537.2"/>
<polygon fill="#FFE100" points="176.1,582.2 187.2,582.8 198.3,585.2 209.4,586.1 220.5,582.8 231.6,586.5 242.7,591.4 253.8,604.2 264.8,606.4 275.9,604.6 287,602.4 298.1,601.3 309.2,601.1 320.3,600 331.4,599 342.5,598.4 353.6,597.4 364.7,594.5 375.8,592.7 386.9,595 398,595.4 409.1,595 420.2,595 431.3,595.4 442.4,595.8 453.5,596.7 464.7,597.5 475.9,600 486.9,600.7 498,600.7 509.1,601.3 520.2,602 531.3,601.3 542.4,600.3 553.5,598.4 564.6,598 575.7,599.4 586.8,600 597.9,600 609,600 620.1,602 631.2,606 642.3,609.3 653.4,610.3 664.5,609 675.6,607.7 686.7,606.9 697.8,606.6 708.9,606.4 720,604.6 731.1,602.7 742.2,596.7 753.3,594.5 764.4,592.4 775.5,590.8 786.6,590.1 797.7,590.1 808.8,590.5 819.9,590.5 831,589.7 842.1,589.4 853.2,589.2 864.3,588.8 875.4,588.4 886.5,588.1 897.6,587.9 908.7,586.8 919.7,586.5 930.8,586.5 941.9,586.8 953,586.5 964.1,585.5 975.2,584.4 986.3,584.2 997.4,584.2 1008.5,584.2 1019.6,584.4 1030.7,585.5 1041.8,586.8 1052.9,588.1 1064,589.2 1075.1,589.7 1086.2,589.7 1097.3,589.4 1108.4,589.2 1119.5,589.2 1130.6,590.1 1141.7,591.8 1152.8,593.4 1163.9,595 1175,596.1 1186.1,597.1 1197.2,597.6 1208.3,598 1219.4,598 1230.5,597.6 1241.6,597.1 1252.7,596.3 1263.8,595 1274.9,593.4 1286,592.7 1297.1,592.5 1308.2,592.7 1319.3,593.3 1330.4,593.7 1341.5,594.1 1352.6,595.8 1363.7,597.6 1374.8,599.4 1385.9,601.3 1397,602.4 1408.1,602.7 1419.2,606 1430.3,608.2 1441.4,609.3 1452.5,609.9 1463.6,609.5 1474.7,609.3 1485.8,609.3 1496.9,609.3 1508,609.3 1519.1,610.3 1530.5,609.5 1530.5,537.2 176.1,537.2"/>
<polygon fill="#FFA000" points="176.1,567.6 187.2,568.6 198.3,570.7 209.4,569.9 220.5,564.3 231.6,569 242.7,573.6 253.8,587.1 264.8,589.2 275.9,587.1 287,583.9 298.1,582.6 309.2,582.2 320.3,581.8 331.4,581.3 342.5,582.6 353.6,582.8 364.7,582.2 375.8,582.2 386.9,583.9 398,584.2 409.1,583.9 420.2,583.1 431.3,583.9 442.4,584.8 453.5,585.2 464.7,586.8 475.9,589.7 486.9,590.5 498,590.1 509.1,589.2 520.2,587.9 531.3,587.1 542.4,586.5 553.5,584.8 564.6,584.2 575.7,585.2 586.8,586.1 597.9,585.7 609,583.9 620.1,584.8 631.2,590.8 642.3,595 653.4,596.7 664.5,595.4 675.6,594.5 686.7,594.1 697.8,594.1 708.9,594.5 720,593.1 731.1,591.8 742.2,583.9 753.3,581.8 764.4,578.9 775.5,576.5 786.6,575.6 797.7,575.6 808.8,576.2 819.9,576.9 831,576 842.1,575.6 853.2,575.2 864.3,575.2 875.4,574.9 886.5,574.6 897.6,574.3 908.7,573.6 919.7,573.3 930.8,573.3 941.9,573.6 953,573.9 964.1,573.9 975.2,572.9 986.3,572.5 997.4,572.9 1008.5,572.9 1019.6,572.3 1030.7,572.5 1041.8,573.1 1052.9,573.3 1064,574.3 1075.1,575.6 1086.2,576.5 1097.3,576.5 1108.4,575.6 1119.5,576 1130.6,576.9 1141.7,578.2 1152.8,579.5 1163.9,580.9 1175,582.2 1186.1,583.1 1197.2,583.5 1208.3,583.9 1219.4,583.9 1230.5,583.5 1241.6,582.8 1252.7,582.2 1263.8,580.9 1274.9,579.1 1286,578.6 1297.1,578.2 1308.2,578.2 1319.3,578.6 1330.4,578.6 1341.5,577.8 1352.6,580.5 1363.7,583.1 1374.8,584.8 1385.9,586.8 1397,587.9 1408.1,588.4 1419.2,591.4 1430.3,594.5 1441.4,596.3 1452.5,598.4 1463.6,598 1474.7,597.6 1485.8,598 1496.9,598 1508,598.7 1519.1,599.4 1530.5,598.7 1530.5,537.2 176.1,537.2"/>
<polygon fill="#FF5F00" points="176.1,548.8 187.2,547.2 198.3,551.1 209.4,551.8 220.5,550.5 231.6,551.8 242.7,555.8 253.8,565.9 264.8,564.6 275.9,563.7 287,559.1 298.1,556.4 309.2,555.8 320.3,555.1 331.4,554.4 342.5,559.7 353.6,563 364.7,568 375.8,570.7 386.9,572.3 398,572.9 409.1,570.7 420.2,569.4 431.3,570.3 442.4,571 453.5,569.6 464.6,571 475.9,571.2 486.9,569.9 498,568.6 506.9,566.3 510.2,559.1 511.5,547.2 512.2,537.2 512.2,537.2 176.1,537.2"/>
<polygon fill="#FF5F00" points="608,537.2 620.1,543.2 631.2,553.8 642.3,559.1 653.4,563.7 664.5,565.4 675.6,566.3 686.7,568.3 697.8,569.9 708.9,570.7 720,569.6 731.1,567.6 742.2,564.1 753.3,561 764.4,559.3 775.5,558.4 786.6,558 797.7,558.4 808.8,559.1 819.9,560.1 831,559.3 842.1,559.1 853.2,559.1 864.3,558.4 875.4,558 886.5,557.5 897.6,557.1 908.7,556.2 919.7,555.8 930.8,556.4 941.9,557.1 953,558 964.1,558.8 975.2,557.7 986.3,555.8 989.8,552.5 991.5,543.2 992.4,537.2 992.4,537.2 608,537.2"/>
<polygon fill="#FF5F00" points="1069.1,537.2 1072.4,541.9 1079.6,546.5 1086.2,553.1 1097.3,555.4 1108.4,556.4 1119.5,556.7 1130.6,556.2 1141.7,556.2 1152.8,557.1 1163.9,558 1175,558.8 1186.1,559.7 1197.2,559.7 1208.3,560.1 1219.4,560.4 1230.5,560.1 1241.6,559.7 1252.7,558.8 1263.8,557.5 1274.9,555.4 1286,554.4 1297.1,553.6 1308.2,554 1319.3,554.4 1330.4,554.4 1341.5,554.4 1352.6,561.7 1363.7,567.6 1374.8,569.4 1385.9,570.7 1397,571.2 1408.1,571 1419.2,572.9 1430.3,575.6 1441.4,578.9 1452.5,582.6 1463.6,582.8 1474.7,581.3 1485.8,580.9 1496.9,580.2 1508,579.9 1519.1,580.2 1530.5,579.1 1530.5,537.2 1069.1,537.2"/>
<polygon fill="#FF1E00" points="1205.1,537.2 1219.4,539.5 1230.5,540.6 1241.6,541.6 1252.7,541.6 1263.8,541.2 1274.9,540.8 1286,541.6 1297.1,542.7 1308.2,542.9 1319.3,543.3 1330.4,543.9 1341.5,544.3 1348.8,542.9 1353.1,538.4 1353.1,537.2 1205.1,537.2"/>
<polygon fill="#1E738C" points="222.4,986.2 231,976.6 238.4,986.2"/>
<polygon fill="#FF1E00" points="201.7,537.2 209.4,540.3 220.5,541.9 231.6,543.2 242.7,544.8 253.8,547.8 264.8,547.8 275.9,546.1 287,546.5 298.1,546.5 309.2,547.2 320.3,546.9 331.4,548.2 342.5,549.2 353.6,549.2 360.2,546.5 360.9,537.2"/>
<polygon fill="#D90000" points="314,537.2 319.9,539.9 323.2,537.2"/>
<rect x="1419.4" y="895.6" width="33.2" height="91.6" fill="#fff"/>
<rect x="1463.6" y="895.6" width="44.5" height="91.6" fill="#fff"/></g>
<g id="pc"><rect x="176.1" y="1058.1" width="1354.4" height="448.9" fill="#0A915F"/>
<path fill="#2DAA4B" fill-rule="evenodd" d="M220.5 1058.1L231.6 1058.1L242.7 1058.1L253.8 1058.1L264.9 1058.1L276 1058.1L287.1 1058.1L298.2 1058.1L309.3 1058.1L320.4 1058.1L331.5 1058.1L342.6 1058.1L353.7 1058.1L364.8 1058.1L375.9 1058.1L387 1058.1L398.1 1058.1L409.2 1058.1L420.3 1058.1L431.4 1058.1L442.5 1058.1L453.6 1058.1L464.7 1058.1L475.8 1058.1L486.9 1058.1L498 1058.1L509.1 1058.1L520.2 1058.1L531.3 1058.1L535.8 1058.1L537.4 1062.9L539.6 1067.4L542.4 1071.1L549.5 1076.5L553.5 1078.2L564.6 1083.1L575.7 1077.1L586.8 1078.5L597.9 1078L603.9 1076.5L609 1073.9L620.1 1071.8L622.4 1067.4L624.5 1062.9L626.7 1058.1L631.2 1058.1L642.3 1058.1L646.8 1058.1L653.4 1062.2L660 1062.9L664.5 1063.3L675.6 1063.8L686.7 1064.5L697.8 1065.5L708.9 1065.8L713.6 1062.9L708.9 1060.7L697.8 1060.7L692.4 1058.1L697.8 1058.1L708.9 1058.1L720 1058.1L731.1 1058.1L742.2 1058.1L753.3 1058.1L764.4 1058.1L775.5 1058.1L786.6 1058.1L797.7 1058.1L808.8 1058.1L819.9 1058.1L831 1058.1L842.1 1058.1L853.2 1058.1L864.3 1058.1L875.4 1058.1L886.5 1058.1L897.6 1058.1L908.7 1058.1L919.8 1058.1L930.9 1058.1L942 1058.1L953.1 1058.1L964.2 1058.1L975.3 1058.1L986.4 1058.1L997.5 1058.1L1008.6 1058.1L1019.7 1058.1L1030.8 1058.1L1041.9 1058.1L1053 1058.1L1064.1 1058.1L1075.2 1058.1L1086.3 1058.1L1097.4 1058.1L1108.5 1058.1L1119.6 1058.1L1130.7 1058.1L1141.8 1058.1L1152.9 1058.1L1164 1058.1L1175.1 1058.1L1186.2 1058.1L1197.3 1058.1L1208.4 1058.1L1219.5 1058.1L1230.6 1058.1L1241.7 1058.1L1248.3 1058.1L1241.7 1061.4L1230.6 1062.2L1229.5 1062.9L1227.6 1067.4L1230.6 1070.3L1241.7 1071.2L1252.8 1075.1L1263.4 1076.5L1263.9 1076.6L1271.6 1087.8L1275 1093.5L1283.7 1099.1L1286.1 1099.5L1297.2 1099.8L1308.3 1101.9L1319.4 1102L1330.5 1100.9L1341.6 1100.1L1347.1 1099.1L1352.7 1095.7L1362.6 1099.1L1363.8 1099.2L1374.9 1099.2L1376.2 1099.1L1386 1096.6L1397.1 1095.2L1408.2 1093.8L1418.8 1099.1L1419.3 1099.2L1419.4 1099.1L1423.5 1087.8L1419.3 1078.4L1408.2 1077.4L1397.1 1076.6L1394.1 1076.5L1386 1075.7L1380.9 1076.5L1374.9 1076.9L1363.8 1078.3L1360.9 1076.5L1363.8 1074.9L1371.4 1067.4L1368.7 1062.9L1363.8 1061L1361.7 1062.9L1356.3 1067.4L1352.7 1071.5L1350 1067.4L1341.6 1063.6L1340.1 1062.9L1332.8 1058.1L1341.6 1058.1L1352.7 1058.1L1363.8 1058.1L1374.9 1058.1L1386 1058.1L1397.1 1058.1L1408.2 1058.1L1419.3 1058.1L1430.4 1058.1L1441.5 1058.1L1452.6 1058.1L1463.7 1058.1L1474.8 1058.1L1485.9 1058.1L1490.3 1058.1L1491.3 1062.9L1492.3 1067.4L1494.3 1076.5L1497 1086.6L1498.6 1087.8L1508.1 1090.6L1516.4 1087.8L1519.2 1085.6L1527.1 1076.5L1530.5 1073.9L1530.5 1076.5L1530.5 1087.8L1530.5 1099.1L1530.5 1110.5L1530.5 1121.8L1530.5 1144.4L1530.5 1167.1L1530.5 1189.8L1530.5 1235.1L1530.5 1280.4L1530.5 1325.7L1530.5 1371L1530.5 1416.4L1530.5 1461.7L1530.5 1507L1519.2 1507L1508.1 1507L1497 1507L1485.9 1507L1474.8 1507L1463.7 1507L1452.6 1507L1441.5 1507L1430.4 1507L1419.3 1507L1408.2 1507L1397.1 1507L1386 1507L1374.9 1507L1363.8 1507L1352.7 1507L1341.6 1507L1330.5 1507L1319.4 1507L1308.3 1507L1297.2 1507L1286.1 1507L1275 1507L1263.9 1507L1252.8 1507L1241.7 1507L1230.6 1507L1219.5 1507L1208.4 1507L1197.3 1507L1186.2 1507L1175.1 1507L1164 1507L1152.9 1507L1141.8 1507L1130.7 1507L1119.6 1507L1108.5 1507L1097.4 1507L1086.3 1507L1075.2 1507L1064.1 1507L1053 1507L1041.9 1507L1030.8 1507L1019.7 1507L1008.6 1507L997.5 1507L986.4 1507L975.3 1507L964.2 1507L953.1 1507L942 1507L930.9 1507L919.8 1507L908.7 1507L897.6 1507L886.5 1507L875.4 1507L864.3 1507L853.2 1507L842.1 1507L831 1507L819.9 1507L808.8 1507L797.7 1507L786.6 1507L775.5 1507L764.4 1507L753.3 1507L742.2 1507L731.1 1507L720 1507L708.9 1507L697.8 1507L686.7 1507L675.6 1507L664.5 1507L653.4 1507L642.3 1507L631.2 1507L620.1 1507L609 1507L597.9 1507L586.8 1507L575.7 1507L564.6 1507L553.5 1507L542.4 1507L531.3 1507L520.2 1507L509.1 1507L498 1507L486.9 1507L475.8 1507L464.7 1507L453.6 1507L442.5 1507L431.4 1507L420.3 1507L409.2 1507L398.1 1507L387 1507L375.9 1507L364.8 1507L353.7 1507L342.6 1507L331.5 1507L320.4 1507L309.3 1507L298.2 1507L287.1 1507L276 1507L264.9 1507L253.8 1507L242.7 1507L231.6 1507L220.5 1507L209.4 1507L198.3 1507L187.2 1507L176.1 1507L176.1 1461.7L176.1 1416.4L176.1 1371L176.1 1325.7L176.1 1280.4L176.1 1235.1L176.1 1189.8L176.1 1167.1L176.1 1144.4L176.1 1121.8L176.1 1110.5L176.1 1099.1L176.1 1094L177.3 1099.1L187.2 1110.1L198.3 1105.9L205.1 1099.1L209.4 1095.1L215.2 1087.8L220.5 1080.5L228.2 1087.8L231.6 1089.9L237.5 1087.8L242.7 1085.1L253.8 1086.8L255.3 1087.8L264.9 1089.2L267.6 1087.8L276 1081.2L287.1 1084.3L298.2 1078.6L305.3 1076.5L298.2 1067.4L298.2 1067.4L287.1 1064.4L276 1064.8L264.9 1064.8L253.8 1066.1L242.7 1064.1L231.6 1063.3L220.5 1066L217.1 1062.9L211.7 1058.1ZM318.5 1067.4L315.1 1076.5L320.4 1078.6L331.5 1078.2L333.2 1076.5L331.5 1068.9L327.7 1067.4L320.4 1066.7ZM773.8 1067.4L775.5 1070.1L786.6 1069.9L789 1067.4L786.6 1065.2L775.5 1065.2Z"/>
<path fill="#64BE32" fill-rule="evenodd" d="M220.5 1058.1L227.1 1058.1L220.5 1060.6L217.2 1058.1ZM264.9 1058.1L276 1058.1L287.1 1058.1L298.2 1058.1L309.3 1058.1L320.4 1058.1L327 1058.1L320.4 1061.6L309.3 1062.8L298.2 1062.8L287.1 1061.2L276 1062.3L264.9 1061.5L258.3 1058.1ZM375.9 1058.1L380.4 1058.1L381.8 1062.9L383.3 1067.4L386.4 1076.5L387 1077.3L398.1 1076.6L398.2 1076.5L401.8 1067.4L403.4 1062.9L404.7 1058.1L409.2 1058.1L420.3 1058.1L431.4 1058.1L442.5 1058.1L453.6 1058.1L464.7 1058.1L475.8 1058.1L486.9 1058.1L498 1058.1L509.1 1058.1L515.8 1058.1L514.9 1062.9L514 1067.4L512.3 1076.5L510.1 1087.8L509.1 1093.4L508.8 1099.1L509.1 1099.3L520.2 1100.9L525.9 1099.1L531.3 1089.2L542.4 1089.1L553.5 1089.1L564.6 1091.9L575.7 1089.5L586.8 1090.4L597.9 1090.1L609 1096.3L620.1 1088.6L621.1 1087.8L628.8 1076.5L631.2 1071.3L642.3 1070.3L653.4 1073.8L664.5 1070.9L675.6 1072L686.7 1071L697.8 1071.1L708.9 1070.9L720 1067.9L731.1 1067.6L741.5 1067.4L742.2 1067.4L742.9 1067.4L753.3 1067.6L764.4 1068L772.2 1076.5L773.4 1087.8L775.5 1090.3L786.6 1089.4L796.1 1087.8L797.7 1083.9L808.8 1078L819.9 1077.3L831 1079.2L842.1 1076.9L843.3 1076.5L842.1 1073.7L831 1068.4L829.1 1067.4L826.5 1062.9L825.5 1058.1L831 1058.1L842.1 1058.1L853.2 1058.1L857.7 1058.1L858.8 1062.9L859.9 1067.4L862.1 1076.5L864.3 1078.7L875.4 1076.6L875.7 1076.5L886.5 1068.7L897.5 1067.4L896.1 1062.9L892.1 1058.1L897.6 1058.1L903.1 1058.1L899.8 1062.9L908.7 1065.4L912.1 1062.9L915.3 1058.1L919.8 1058.1L930.9 1058.1L942 1058.1L953.1 1058.1L964.2 1058.1L975.3 1058.1L986.4 1058.1L997.5 1058.1L1008.6 1058.1L1019.7 1058.1L1030.8 1058.1L1041.9 1058.1L1053 1058.1L1064.1 1058.1L1075.2 1058.1L1086.3 1058.1L1097.4 1058.1L1108.5 1058.1L1119.6 1058.1L1130.7 1058.1L1135.2 1058.1L1141.8 1062.3L1152.9 1062.4L1164 1061.8L1167.7 1062.9L1173.7 1067.4L1175.1 1068.2L1186.2 1069.4L1192.4 1067.4L1197.3 1066L1204.2 1067.4L1208.4 1068.3L1211.3 1067.4L1219.5 1064.9L1220.9 1067.4L1230 1076.5L1230.6 1076.9L1241.7 1077.1L1252.2 1087.8L1252.8 1088.5L1257.8 1087.8L1263.9 1087L1264.5 1087.8L1272.5 1099.1L1275 1100.6L1286.1 1102.2L1297.2 1102.9L1307.7 1110.5L1308.3 1111.7L1319.4 1113.6L1322.2 1110.5L1330.5 1107.8L1341.6 1104.4L1352.7 1102.4L1363.8 1103.8L1374.9 1102.9L1386 1102.1L1397.1 1100.7L1408.2 1100.3L1419.3 1101.7L1423.3 1099.1L1430.4 1088.2L1441.5 1091.3L1444.9 1099.1L1452.6 1100.8L1457.7 1099.1L1463.7 1088.5L1474.8 1088.5L1485.9 1088.8L1496.6 1099.1L1497 1099.2L1508.1 1100.2L1511 1099.1L1519.2 1092.2L1530.5 1095.1L1530.5 1099.1L1530.5 1110.5L1530.5 1121.8L1530.5 1144.4L1530.5 1167.1L1530.5 1189.8L1530.5 1235.1L1530.5 1280.4L1530.5 1325.7L1530.5 1371L1530.5 1416.4L1530.5 1461.7L1530.5 1507L1519.2 1507L1508.1 1507L1497 1507L1485.9 1507L1474.8 1507L1463.7 1507L1452.6 1507L1441.5 1507L1430.4 1507L1419.3 1507L1408.2 1507L1397.1 1507L1386 1507L1374.9 1507L1363.8 1507L1352.7 1507L1341.6 1507L1330.5 1507L1319.4 1507L1308.3 1507L1297.2 1507L1286.1 1507L1275 1507L1263.9 1507L1252.8 1507L1241.7 1507L1230.6 1507L1219.5 1507L1208.4 1507L1197.3 1507L1186.2 1507L1175.1 1507L1164 1507L1152.9 1507L1141.8 1507L1130.7 1507L1119.6 1507L1108.5 1507L1097.4 1507L1086.3 1507L1075.2 1507L1064.1 1507L1053 1507L1041.9 1507L1030.8 1507L1019.7 1507L1008.6 1507L997.5 1507L986.4 1507L975.3 1507L964.2 1507L953.1 1507L942 1507L930.9 1507L919.8 1507L908.7 1507L897.6 1507L886.5 1507L875.4 1507L864.3 1507L853.2 1507L842.1 1507L831 1507L819.9 1507L808.8 1507L797.7 1507L786.6 1507L775.5 1507L764.4 1507L753.3 1507L742.2 1507L731.1 1507L720 1507L708.9 1507L697.8 1507L686.7 1507L675.6 1507L664.5 1507L653.4 1507L642.3 1507L631.2 1507L620.1 1507L609 1507L597.9 1507L586.8 1507L575.7 1507L564.6 1507L553.5 1507L542.4 1507L531.3 1507L520.2 1507L509.1 1507L498 1507L486.9 1507L475.8 1507L464.7 1507L453.6 1507L442.5 1507L431.4 1507L420.3 1507L409.2 1507L398.1 1507L387 1507L375.9 1507L364.8 1507L353.7 1507L342.6 1507L331.5 1507L320.4 1507L309.3 1507L298.2 1507L287.1 1507L276 1507L264.9 1507L253.8 1507L242.7 1507L231.6 1507L220.5 1507L209.4 1507L198.3 1507L187.2 1507L176.1 1507L176.1 1488.9L183.6 1461.7L187.2 1426.5L188.9 1416.4L198.3 1374.8L200.8 1371L198.3 1362.6L187.2 1330.9L186.5 1325.7L186.1 1280.4L181.3 1235.1L176.1 1222.6L176.1 1189.8L176.1 1167.1L176.1 1144.4L176.1 1121.8L176.1 1110.5L176.1 1104.3L181.9 1110.5L187.2 1117.4L198.3 1112.4L199.5 1110.5L209.4 1100.4L210.1 1099.1L219.9 1087.8L220.5 1086.9L221.4 1087.8L231.6 1094L242.7 1090.2L253.8 1091.3L264.9 1092.4L273.4 1087.8L276 1085.8L284.6 1087.8L287.1 1088.1L288.3 1087.8L298.2 1083L308.4 1087.8L309.3 1088.2L314.8 1087.8L320.4 1087L331.5 1082.7L337.8 1076.5L342.6 1068.7L353.7 1068.2L364.8 1073.5L368.3 1067.4L369.9 1062.9L371.4 1058.1ZM1108.3 1099.1L1108.5 1099.4L1108.7 1099.1L1108.5 1097.9ZM1341.6 1058.1L1352.7 1058.1L1361.5 1058.1L1355.9 1062.9L1352.7 1064.9L1348.2 1062.9L1341.6 1060.1L1338.3 1058.1Z"/>
<path fill="#A0DC1E" fill-rule="evenodd" d="M298.2 1058.1L309.3 1058.1L315.9 1058.1L309.3 1059.8L298.2 1059.8L291.7 1058.1ZM420.3 1058.1L431.4 1058.1L442.5 1058.1L453.6 1058.1L464.7 1058.1L475.8 1058.1L486.9 1058.1L491.4 1058.1L492.6 1062.9L494 1067.4L497 1076.5L498 1077.9L502.3 1087.8L505.4 1099.1L509.1 1101.8L520.2 1103L531.3 1099.9L542.4 1099.3L545.6 1099.1L553.5 1098.2L564.6 1098.3L575.7 1098.1L586.8 1098.1L595.3 1099.1L597.9 1099.4L609 1105.4L620.1 1100.1L625.1 1099.1L631.2 1095.5L642.3 1089.9L653.2 1099.1L653.4 1099.1L653.5 1099.1L657.2 1087.8L664.5 1079.5L675.6 1083.7L686.7 1077.5L697.8 1077.3L700 1076.5L708.9 1075.6L720 1074.2L731.1 1073L742.2 1071.2L753.3 1072.5L764.4 1073.9L766.8 1076.5L770.9 1087.8L775.5 1093.1L786.6 1091.8L797.7 1090.1L807.5 1087.8L808.8 1086.7L819.9 1082.9L831 1083.7L842.1 1081.5L853.2 1077.3L863.4 1087.8L864.3 1088.2L865 1087.8L875.4 1079.7L885.4 1076.5L886.5 1075.7L897.6 1072.7L908.7 1070.7L919.8 1070.1L930.9 1070.6L942 1073L953.1 1073L956.4 1067.4L958.1 1062.9L959.7 1058.1L964.2 1058.1L975.3 1058.1L986.4 1058.1L997.5 1058.1L1002 1058.1L1003 1062.9L1004 1067.4L1006 1076.5L1008.5 1087.8L1008.6 1087.8L1019.7 1087.8L1030.8 1087.8L1041.9 1087.8L1053 1087.8L1053.7 1087.8L1064.1 1086.4L1069.1 1076.5L1067.3 1067.4L1064.1 1063.7L1062.9 1062.9L1058.6 1058.1L1064.1 1058.1L1075.2 1058.1L1086.3 1058.1L1097.4 1058.1L1108.5 1058.1L1119.6 1058.1L1125.1 1058.1L1121.7 1062.9L1119.6 1064.4L1115.5 1067.4L1119.6 1071.7L1124.5 1076.5L1119.6 1079.5L1108.5 1079L1097.4 1080.6L1094.5 1087.8L1097.4 1089.7L1104.2 1099.1L1108.5 1104.2L1113.7 1099.1L1119.6 1091.9L1130.7 1090.5L1141.8 1089.2L1152.9 1088.1L1154.2 1087.8L1160.9 1076.5L1164 1073.9L1169 1076.5L1175.1 1079L1186.2 1080.6L1193.4 1076.5L1197.3 1074.5L1202 1076.5L1208.4 1081.5L1219.5 1080.8L1230.6 1084.1L1241.7 1086L1243.5 1087.8L1252.4 1099.1L1252.8 1099.2L1253.3 1099.1L1263.9 1093.8L1267.8 1099.1L1275 1103.3L1286.1 1104.9L1297.2 1106L1303.4 1110.5L1308.3 1121.4L1308.9 1121.8L1319.4 1143.6L1323.7 1121.8L1330.5 1114.6L1337.3 1110.5L1341.6 1108.8L1352.7 1106.6L1363.8 1108.3L1374.9 1106.7L1386 1105.9L1397.1 1104.5L1408.2 1103.9L1419.3 1104.3L1427.1 1099.1L1430.4 1094.1L1436.7 1099.1L1441.5 1100.8L1452.6 1103L1463.7 1099.2L1474.8 1099.4L1485.9 1099.5L1497 1101.4L1508.1 1102.4L1516.6 1099.1L1519.2 1096.9L1523.5 1099.1L1530.5 1101.2L1530.5 1110.5L1530.5 1121.8L1530.5 1144.4L1530.5 1167.1L1530.5 1189.8L1530.5 1235.1L1530.5 1280.4L1530.5 1325.7L1530.5 1371L1530.5 1416.4L1530.5 1461.7L1530.5 1507L1519.2 1507L1508.1 1507L1497 1507L1485.9 1507L1474.8 1507L1463.7 1507L1452.6 1507L1441.5 1507L1430.4 1507L1419.3 1507L1408.2 1507L1397.1 1507L1386 1507L1374.9 1507L1363.8 1507L1352.7 1507L1341.6 1507L1330.5 1507L1319.4 1507L1308.3 1507L1297.2 1507L1286.1 1507L1275 1507L1263.9 1507L1252.8 1507L1241.7 1507L1230.6 1507L1219.5 1507L1208.4 1507L1197.3 1507L1186.2 1507L1175.1 1507L1164 1507L1152.9 1507L1141.8 1507L1130.7 1507L1119.6 1507L1108.5 1507L1097.4 1507L1086.3 1507L1075.2 1507L1064.1 1507L1053 1507L1041.9 1507L1030.8 1507L1019.7 1507L1008.6 1507L997.5 1507L986.4 1507L975.3 1507L964.2 1507L953.1 1507L942 1507L930.9 1507L919.8 1507L908.7 1507L897.6 1507L886.5 1507L875.4 1507L864.3 1507L853.2 1507L842.1 1507L831 1507L819.9 1507L808.8 1507L797.7 1507L786.6 1507L775.5 1507L764.4 1507L753.3 1507L742.2 1507L731.1 1507L720 1507L708.9 1507L697.8 1507L686.7 1507L675.6 1507L664.5 1507L653.4 1507L642.3 1507L631.2 1507L620.1 1507L609 1507L597.9 1507L586.8 1507L575.7 1507L564.6 1507L553.5 1507L542.4 1507L531.3 1507L520.2 1507L509.1 1507L498 1507L486.9 1507L475.8 1507L464.7 1507L453.6 1507L442.5 1507L431.4 1507L420.3 1507L409.2 1507L398.1 1507L387 1507L375.9 1507L364.8 1507L353.7 1507L342.6 1507L331.5 1507L320.4 1507L309.3 1507L298.2 1507L287.1 1507L276 1507L264.9 1507L253.8 1507L242.7 1507L231.6 1507L220.5 1507L209.4 1507L198.3 1507L187.2 1507L183.3 1507L187.2 1492.9L195 1461.7L198.3 1445.4L209.1 1416.4L209.4 1415.6L220.5 1399.5L231.6 1389.9L242.7 1394.2L249.6 1416.4L253.8 1421.8L257 1416.4L264.9 1371.2L264.9 1371L264.9 1370.4L259.1 1325.7L262.6 1280.4L253.8 1273.8L242.7 1261.8L231.6 1237.2L231 1235.1L221.9 1189.8L220.5 1187.9L219.1 1189.8L209.4 1227L206.4 1235.1L198.3 1246.5L193.2 1235.1L187.2 1219.8L176.1 1201.8L176.1 1189.8L176.1 1167.1L176.1 1144.4L176.1 1121.8L176.1 1110.5L176.1 1110.2L176.4 1110.5L185.4 1121.8L187.2 1127L193 1121.8L198.3 1119.3L203.6 1110.5L209.4 1104.6L212.4 1099.1L220.5 1090L231.6 1098.1L242.7 1094.6L253.8 1095L264.9 1095.5L276 1089.2L287.1 1090.2L297.2 1087.8L298.2 1087.3L299.2 1087.8L309.3 1092.7L320.4 1091.7L330.2 1087.8L331.5 1087.2L342.3 1076.5L342.6 1076.1L353.7 1072.6L359.3 1076.5L364.8 1079L375.9 1076.9L385.9 1087.8L387 1089.2L398.1 1088.2L401 1087.8L409.2 1079.8L411.6 1076.5L413.7 1067.4L414.8 1062.9L415.8 1058.1ZM1218.3 1099.1L1219.5 1099.7L1220.3 1099.1L1219.5 1093.5ZM587 1167.1L597.9 1171.6L609 1174.9L610.6 1167.1L609 1160.9L597.9 1164.7ZM1338.9 1167.1L1341.6 1179.3L1345.4 1167.1L1341.6 1158.6ZM304.2 1235.1L298.2 1252.7L287.1 1268.8L278.4 1280.4L277.9 1325.7L284.2 1371L287.1 1378.2L290 1371L298.2 1331.6L306.1 1325.7L309.3 1323.3L310.3 1325.7L320.4 1362.1L331.5 1363.3L342.6 1341.7L348.6 1325.7L353.7 1314.7L358.3 1280.4L353.7 1271.4L342.6 1258.7L331.5 1248.7L320.4 1240.7L316.7 1235.1L309.3 1223.7ZM372.9 1280.4L375.9 1295.5L387 1293.1L391.3 1280.4L387 1277.2L375.9 1276.8ZM527.8 1280.4L531.3 1282.5L542.4 1286.8L553.5 1292.6L564.6 1294.1L575.7 1285L586.8 1280.9L587.3 1280.4L586.8 1279.7L575.7 1273.3L564.6 1266.3L553.5 1261.5L542.4 1267.1L531.3 1276.9ZM1352.7 1058.1L1355.9 1058.1L1352.7 1060.8L1346.2 1058.1Z"/>
<path fill="#E1F00F" fill-rule="evenodd" d="M442.5 1058.1L453.6 1058.1L464.7 1058.1L469.2 1058.1L471.6 1062.9L475.8 1067.4L475.8 1067.4L483.3 1076.5L486.9 1079.8L492.5 1087.8L498 1090.9L501.9 1099.1L509.1 1104.2L520.2 1105.2L531.3 1103L542.4 1102.9L553.5 1103.9L564.6 1103.7L575.7 1103.4L586.8 1104L597.9 1104.9L606.4 1110.5L609 1115.1L613 1110.5L620.1 1106.8L631.2 1102.2L642.3 1099.5L653.4 1100.9L659.3 1099.1L664.5 1089.9L675.3 1099.1L675.6 1099.2L676.1 1099.1L686.7 1093.5L697.8 1090L707.1 1087.8L708.9 1086.8L720 1080.5L731.1 1078L736.3 1076.5L742.2 1075L749.8 1076.5L753.3 1077.2L764.4 1079.3L768.5 1087.8L775.5 1095.9L786.6 1094.1L797.7 1092.7L808.8 1090L819.9 1088.1L831 1088.1L833.4 1087.8L842.1 1086.1L853.2 1082.9L857.9 1087.8L864.3 1090.3L869 1087.8L875.4 1082.8L886.5 1078.2L897.6 1077.1L902.3 1076.5L908.7 1074.8L914.5 1076.5L919.8 1077.3L930.9 1077.4L942 1078L953.1 1078L964.2 1076.5L964.9 1076.5L971.7 1067.4L975.2 1062.9L975.3 1062.8L975.4 1062.9L978.4 1067.4L983.5 1076.5L986.4 1078.6L997.5 1085.1L998.2 1087.8L1008.6 1090.5L1019.7 1090.5L1030.8 1090.5L1041.9 1090.4L1053 1091.3L1064.1 1090.5L1069.6 1087.8L1075.2 1078.1L1086.2 1087.8L1086.3 1087.8L1097.4 1095.3L1100.2 1099.1L1108.5 1109L1118.6 1099.1L1119.6 1097.9L1122.7 1099.1L1130.7 1101.4L1137.3 1099.1L1141.8 1096.5L1152.9 1090.8L1164 1088.1L1175.1 1088.4L1186.2 1088.4L1197.3 1088.3L1208.3 1099.1L1208.4 1099.2L1219.5 1104.9L1227.4 1099.1L1230.6 1093.6L1241.1 1099.1L1241.7 1099.2L1252.8 1102L1263.9 1100L1275 1106L1286.1 1107.7L1297.2 1109.1L1299.1 1110.5L1304.1 1121.8L1303.1 1144.4L1300.8 1167.1L1297.2 1176.2L1291.7 1189.8L1297.2 1218.5L1304 1235.1L1297.2 1254L1286.1 1278L1275 1246L1263.9 1272L1252.8 1278.6L1241.7 1264L1230.6 1272L1219.5 1272L1211.1 1280.4L1210 1325.7L1219.5 1369.2L1219.9 1371L1230.6 1414.5L1241.7 1414.5L1242.1 1416.4L1252.8 1442L1263.9 1450L1275 1431L1283.9 1416.4L1286.1 1412L1289 1416.4L1297.2 1430L1300.6 1416.4L1308.3 1396L1319.4 1413L1322.4 1416.4L1330.5 1429L1337.4 1416.4L1341.6 1410.6L1347.7 1416.4L1352.7 1422.6L1363.8 1423L1365.4 1416.4L1374.9 1384L1386 1401.4L1397.1 1399.4L1403.1 1416.4L1408.2 1426L1416.4 1416.4L1419.3 1386.9L1423.5 1371L1430.4 1325.7L1430.4 1325.7L1439.9 1280.4L1430.4 1271.4L1419.3 1273L1408.2 1265.4L1397.1 1275L1386 1266L1374.9 1251.4L1363.8 1250.6L1352.7 1242L1341.6 1245.4L1331.8 1235.1L1330.5 1233.3L1324.3 1189.8L1329 1167.1L1330.5 1162.7L1331.3 1167.1L1335.6 1189.8L1341.6 1225.8L1352.7 1226.7L1358.8 1189.8L1355.8 1167.1L1353 1144.4L1352.7 1142.9L1341.6 1135L1330.5 1123.7L1330.2 1121.8L1330.5 1121.5L1341.6 1116.4L1352.7 1111.9L1363.8 1117.3L1374.6 1110.5L1374.9 1110.4L1386 1109.7L1397.1 1108.2L1408.2 1107.5L1419.3 1106.8L1430.4 1099.4L1441.5 1103.3L1452.6 1105.2L1463.7 1101.6L1474.8 1102.1L1485.9 1101.9L1497 1103.6L1508.1 1104.5L1519.2 1100.2L1530.5 1103.9L1530.5 1110.5L1530.5 1121.8L1530.5 1144.4L1530.5 1167.1L1530.5 1189.8L1530.5 1235.1L1530.5 1253.6L1519.2 1265.2L1508.1 1270.9L1497 1275.9L1487.7 1280.4L1485.9 1289.5L1480.7 1325.7L1474.8 1343.9L1467.3 1371L1474.8 1381.5L1485.9 1394.2L1497 1386.3L1504.2 1371L1508.1 1354.5L1511.5 1371L1519.2 1385.9L1524.2 1371L1530.5 1348.9L1530.5 1371L1530.5 1416.4L1530.5 1461.7L1530.5 1507L1519.2 1507L1508.1 1507L1497 1507L1485.9 1507L1474.8 1507L1463.7 1507L1452.6 1507L1441.5 1507L1430.4 1507L1419.3 1507L1408.2 1507L1397.1 1507L1386 1507L1374.9 1507L1363.8 1507L1352.7 1507L1341.6 1507L1330.5 1507L1319.4 1507L1308.3 1507L1297.2 1507L1286.1 1507L1275 1507L1263.9 1507L1252.8 1507L1241.7 1507L1230.6 1507L1219.5 1507L1208.4 1507L1197.3 1507L1186.2 1507L1175.1 1507L1164 1507L1152.9 1507L1141.8 1507L1130.7 1507L1119.6 1507L1108.5 1507L1097.4 1507L1086.3 1507L1075.2 1507L1064.1 1507L1053 1507L1041.9 1507L1030.8 1507L1019.7 1507L1008.6 1507L997.5 1507L986.4 1507L975.3 1507L964.2 1507L953.1 1507L942 1507L930.9 1507L919.8 1507L908.7 1507L897.6 1507L886.5 1507L875.4 1507L864.3 1507L853.2 1507L842.1 1507L831 1507L819.9 1507L808.8 1507L797.7 1507L786.6 1507L775.5 1507L764.4 1507L753.3 1507L742.2 1507L731.1 1507L720 1507L708.9 1507L697.8 1507L686.7 1507L675.6 1507L664.5 1507L653.4 1507L642.3 1507L631.2 1507L620.1 1507L609 1507L597.9 1507L586.8 1507L575.7 1507L564.6 1507L553.5 1507L542.4 1507L531.3 1507L520.2 1507L509.1 1507L498 1507L486.9 1507L475.8 1507L464.7 1507L453.6 1507L442.5 1507L431.4 1507L420.3 1507L409.2 1507L398.1 1507L387 1507L375.9 1507L364.8 1507L353.7 1507L342.6 1507L331.5 1507L320.4 1507L309.3 1507L298.2 1507L287.1 1507L276 1507L264.9 1507L253.8 1507L242.7 1507L231.6 1507L220.5 1507L209.4 1507L198.3 1507L194.5 1507L198.3 1491.7L204.6 1461.7L209.4 1445.7L220.5 1448.4L231.6 1427.4L242.7 1441.8L253.8 1449.6L264.9 1432.1L274.5 1416.4L276 1409.1L287.1 1413.5L298.2 1389L309.3 1381L320.4 1407L331.5 1408L342.6 1412L353.7 1403L362 1416.4L364.8 1421L371.5 1416.4L375.9 1413L387 1414.5L388.6 1416.4L398.1 1424L409.2 1430.6L414.6 1416.4L420.3 1399L424.4 1416.4L431.4 1441L442.5 1430L453.6 1434.9L464.1 1416.4L464.7 1414.5L475.8 1400.2L486.9 1389L491.2 1371L498 1343L509.1 1355L513.8 1371L520.2 1393L531.3 1398L542.4 1384L547.7 1371L553.5 1357L564.6 1368L566.5 1371L575.7 1386L586.8 1395L597.9 1390L609 1372.9L620.1 1382L631.2 1381.4L636.9 1371L641.2 1325.7L636.7 1280.4L631.2 1268.9L620.1 1242.1L615.6 1235.1L620.1 1229.5L625 1189.8L620.1 1175L618.2 1167.1L612.2 1144.4L609 1133.4L597.9 1142.8L597 1144.4L586.8 1156.2L575.7 1164.4L564.6 1154.3L553.5 1161.9L542.4 1163.5L537.3 1167.1L531.3 1178.7L520.2 1180L515 1189.8L509.1 1216.3L498 1222.4L490.4 1189.8L486.9 1185.4L483.4 1189.8L477.2 1235.1L475.8 1236.5L464.7 1244.6L453.6 1250.9L442.5 1251.1L431.4 1246.8L420.3 1241.9L409.2 1237.6L403.5 1235.1L398.1 1231.6L392.6 1189.8L388 1167.1L387 1165.5L385.6 1167.1L375.9 1185.9L364.8 1182.1L359.6 1189.8L353.7 1211.6L342.6 1209L331.5 1207.1L320.4 1205.6L314.2 1189.8L309.3 1182.3L298.2 1187L295.5 1189.8L287.1 1214.5L276 1223.1L270.7 1235.1L264.9 1243.8L259.8 1235.1L253.8 1221.2L242.7 1209.3L237.4 1189.8L232.5 1167.1L231.6 1165.1L220.5 1162.2L209.4 1157.8L198.3 1162L195.5 1167.1L187.2 1179.8L176.1 1179.7L176.1 1167.1L176.1 1144.4L176.1 1121.8L176.1 1115.7L181 1121.8L187.2 1140.2L198.3 1133.8L202.1 1121.8L207.8 1110.5L209.4 1108.8L214.8 1099.1L220.5 1092.7L229 1099.1L231.6 1102.4L242 1099.1L242.7 1098.9L253.8 1098.7L264.9 1098.7L276 1091.6L287.1 1092.3L298.2 1090.6L309.3 1097.2L320.4 1095.9L331.5 1092.3L338.9 1087.8L342.6 1084.2L353.7 1077.7L364.8 1081.9L375.9 1080.5L382.6 1087.8L387 1093.2L398.1 1090.3L409.2 1089.5L420.3 1087.8L431.4 1088.1L442.5 1089.3L445.1 1087.8L442.5 1081L437.7 1076.5L437.1 1067.4L437 1062.9L437 1058.1ZM973.9 1167.1L964.2 1180.2L953.1 1180.3L947.9 1189.8L942 1235.1L942 1235.1L942 1235.1L949.8 1280.4L942.6 1325.7L953.1 1369.2L958 1371L964.2 1382.6L975.3 1373.4L979 1371L986.4 1367.3L997.5 1346L1005.7 1371L1008.6 1381L1015.7 1371L1019.7 1366L1030.8 1364.6L1041.9 1368L1047.4 1371L1053 1382.6L1055.1 1371L1064.1 1361L1068.6 1371L1075.2 1394.6L1086.3 1392L1096.2 1416.4L1097.4 1418.2L1108.5 1429L1119.6 1418.2L1130.7 1418.2L1133.5 1416.4L1141.8 1411L1152.9 1392.6L1164 1389L1175.1 1376L1186.2 1378L1197.3 1371.1L1197.4 1371L1197.3 1370.5L1189.7 1325.7L1191.2 1280.4L1186.2 1274L1175.1 1263.4L1164 1278L1160.5 1280.4L1152.9 1289L1148.2 1280.4L1141.8 1272L1130.7 1276L1119.6 1264.6L1108.5 1274L1097.4 1266L1086.3 1250L1082.4 1235.1L1075.2 1211L1070.7 1235.1L1064.1 1265L1053.5 1235.1L1058.2 1189.8L1053 1177.5L1048.3 1189.8L1041.9 1224.1L1030.8 1216.3L1019.7 1212.2L1014 1189.8L1008.6 1177.5L997.5 1174.3L986.4 1173.5L978.5 1167.1L975.3 1165.3ZM752.9 1280.4L751.4 1325.7L747.1 1371L753.3 1384L760.6 1371L764.4 1363L775.5 1369.2L778.3 1371L786.6 1380L797.7 1388L808.8 1389.4L819.9 1391L831 1397.4L842.1 1385L848.7 1371L853.2 1369.2L853.6 1371L864.3 1397.8L874.2 1371L875.4 1365L886.1 1325.7L878 1280.4L875.4 1275.9L867.9 1280.4L864.3 1283.4L853.2 1301.1L842.1 1281.7L841.9 1280.4L831 1264.2L825.1 1280.4L819.9 1294.3L813.7 1280.4L808.8 1269L797.7 1256.2L786.6 1250.6L775.5 1256.4L764.4 1268.2L753.3 1279.3ZM643.4 1325.7L644.8 1371L653.4 1391.7L663.6 1371L662.3 1325.7L653.4 1285.4ZM672.4 1325.7L675.6 1335.5L686.7 1333.8L689 1325.7L686.7 1317L675.6 1314.7ZM705.5 1325.7L708.9 1333.5L720 1334L721 1325.7L720 1316.8L708.9 1318.2ZM1445.4 1325.7L1452.6 1351.4L1461 1325.7L1452.6 1296.8ZM609 1315.3L613.7 1325.7L609 1362.9L599.4 1325.7Z"/>
<path fill="#FFDC00" fill-rule="evenodd" d="M364.8 1084.8L375.9 1084L379.3 1087.8L387 1097.2L398.1 1092.5L409.2 1092.9L420.3 1091.3L431.4 1094.3L442.5 1094.5L453.6 1087.9L455.5 1087.8L464.7 1083.9L470.7 1087.8L475.8 1088.2L486.9 1089.9L498 1098.1L498.5 1099.1L509.1 1106.7L520.2 1107.4L531.3 1106.1L542.4 1106.5L553.5 1109.2L564.6 1108.9L575.7 1108.3L586.8 1109.7L597.9 1110.4L598 1110.5L601.7 1121.8L597.9 1126.5L587.5 1144.4L586.8 1145.3L575.7 1147.2L573.9 1144.4L564.6 1131L553.5 1136.5L550.5 1144.4L542.4 1154.3L531.3 1160.3L520.2 1161.9L509.1 1165.5L507.4 1167.1L498 1180.1L486.9 1168.5L475.8 1180.5L464.7 1179.9L453.6 1183.1L442.5 1176.2L431.4 1177.1L420.3 1184L409.2 1181.8L398.1 1174.8L396.1 1167.1L387 1153.2L375.9 1166.2L364.8 1165.6L353.7 1167L342.6 1166L331.5 1166.2L320.4 1166.2L309.3 1164.9L304.9 1167.1L298.2 1172.3L287.1 1183.7L276 1182.8L264.9 1185.8L253.8 1184.7L243.7 1167.1L242.7 1165L233.2 1144.4L231.6 1142L220.5 1142.1L209.4 1127.4L208 1121.8L209.4 1118.6L211 1110.5L217.1 1099.1L220.5 1095.3L225.6 1099.1L231.6 1106.7L242.7 1103.6L253.8 1101.6L264.9 1101.5L268.2 1099.1L276 1094.1L287.1 1094.4L298.2 1093.8L306.5 1099.1L309.3 1101.5L320.4 1100L325.1 1099.1L331.5 1097.3L342.6 1090.8L353.7 1088.3L355 1087.8ZM720 1086.8L731.1 1082.4L742.2 1079L753.3 1081.6L764.4 1084.3L766.1 1087.8L775.5 1098.7L786.6 1096.5L797.7 1095.3L808.8 1092.5L819.9 1090.7L831 1090.7L842.1 1089.6L853.2 1088.1L864.3 1092.4L873.1 1087.8L875.4 1086L886.5 1080.1L897.6 1079.1L908.7 1077.9L919.8 1079.8L930.9 1079.4L942 1079.9L953.1 1079.9L964.2 1079.3L974.6 1087.8L975.3 1090.4L986.4 1089.3L997.5 1091.2L1008.6 1093.1L1019.7 1093.2L1030.8 1093.2L1041.9 1093L1053 1094.7L1064.1 1093.5L1075.2 1088L1086.3 1090.7L1096.3 1099.1L1097.4 1101.2L1104.8 1110.5L1108.5 1120.3L1118.9 1110.5L1119.6 1109.8L1130.7 1105.7L1141.8 1103.2L1144.4 1099.1L1152.9 1093.4L1164 1091.5L1175.1 1091.3L1186.2 1090.8L1197.3 1091.8L1204.8 1099.1L1208.4 1102.4L1219.5 1110L1230.6 1101.1L1241.7 1102.2L1252.8 1104.8L1263.9 1104.5L1275 1108.7L1286.1 1110.4L1286.3 1110.5L1297.2 1116.1L1299.6 1121.8L1297.2 1140.3L1286.1 1142.6L1275 1143.4L1274.5 1144.4L1272.4 1167.1L1269.1 1189.8L1263.9 1212.4L1252.8 1214.4L1241.7 1209.5L1230.6 1213.7L1219.5 1212.7L1208.4 1219.2L1197.3 1220.4L1186.2 1225L1175.1 1228.7L1164 1229.5L1152.9 1230.7L1141.8 1218.2L1130.7 1218.2L1119.6 1213.2L1108.5 1214L1101.6 1189.8L1097.4 1178.8L1086.3 1173L1076 1167.1L1075.2 1166.7L1064.1 1155.8L1056.4 1144.4L1053 1142.9L1051.8 1144.4L1045.2 1167.1L1041.9 1175.9L1035.8 1167.1L1030.8 1158.4L1019.7 1159.6L1008.6 1148.6L999.1 1144.4L997.5 1144L986.4 1143L975.3 1143.5L974.2 1144.4L964.2 1159.4L953.1 1162.7L943.6 1167.1L942 1169.7L932 1189.8L930.9 1193L919.8 1221L908.7 1211.2L897.6 1222L886.5 1228.6L875.4 1219L864.3 1216L853.2 1219L842.1 1208L831 1207L819.9 1216L808.8 1207L797.7 1199L786.6 1197L775.5 1204L764.4 1221L753.3 1227L747.4 1235.1L742.2 1245L739.3 1280.4L733.9 1325.7L731.1 1338.8L729.4 1325.7L723.1 1280.4L720 1242L708.9 1260.8L697.8 1248.6L692.1 1235.1L686.7 1228L675.6 1231L672.1 1235.1L664.5 1243L653.4 1240L649.8 1235.1L642.3 1221L636.1 1189.8L631.2 1180.2L626.5 1167.1L620.1 1145.3L619.9 1144.4L615.3 1121.8L620.1 1116.4L623.2 1110.5L631.2 1106L642.3 1102.1L653.4 1102.7L664.5 1099.4L675.6 1101.3L686.7 1100.3L691.5 1099.1L697.8 1095.3L708.9 1091L718.3 1087.8ZM1082.9 1144.4L1086.3 1159.4L1089.7 1144.4L1086.3 1141.9ZM730.2 1189.8L731.1 1197.8L742.2 1222.2L745.8 1189.8L742.2 1186L731.1 1189.1ZM1419.3 1109.3L1430.4 1101.6L1441.5 1105.9L1452.6 1107.3L1463.7 1103.9L1474.8 1104.8L1485.9 1104.4L1497 1105.8L1508.1 1106.6L1519.2 1102.2L1530.5 1106.6L1530.5 1110.5L1530.5 1121.8L1530.5 1144.4L1530.5 1167.1L1530.5 1189.8L1530.5 1222.4L1519.2 1227.6L1511.2 1235.1L1508.1 1236.8L1497 1239.5L1485.9 1242.5L1474.8 1245.5L1463.7 1246.3L1452.6 1243L1441.5 1239.8L1436.3 1235.1L1430.4 1232.3L1419.3 1232.4L1408.2 1221L1397.1 1226.8L1386 1216.9L1380.5 1189.8L1376.7 1167.1L1374.9 1156.6L1363.8 1154.3L1362 1144.4L1363.8 1139.2L1374.9 1129.5L1380.7 1121.8L1386 1120.3L1397.1 1112.3L1408.2 1111.8L1411.5 1110.5ZM176.5 1121.8L180.7 1144.4L176.1 1155.8L176.1 1144.4L176.1 1121.8L176.1 1121.3ZM731.1 1399L739.5 1416.4L742.2 1424L753.3 1453L757.1 1461.7L764.4 1471L772.7 1461.7L775.5 1456L786.6 1446L797.7 1456L806 1461.7L808.8 1464L811.9 1461.7L819.9 1457L831 1455L842.1 1456L853.2 1452.6L864.3 1458L869.9 1461.7L875.4 1464.6L877.8 1461.7L886.5 1448.6L897.6 1456.6L908.7 1434L913.4 1416.4L919.8 1392L930.9 1395L942 1411L943.2 1416.4L953.1 1449L964.2 1447L975.3 1429L983.7 1416.4L986.4 1413L994.8 1416.4L997.5 1418.2L1008.6 1459.9L1019.7 1449L1027 1461.7L1030.8 1467.4L1033.9 1461.7L1041.9 1446L1053 1454L1064.1 1430L1075.2 1442.8L1086.3 1449.9L1094.6 1461.7L1097.4 1489.4L1100.7 1507L1097.4 1507L1086.3 1507L1075.2 1507L1064.1 1507L1053 1507L1041.9 1507L1030.8 1507L1019.7 1507L1008.6 1507L997.5 1507L986.4 1507L975.3 1507L964.2 1507L953.1 1507L942 1507L930.9 1507L919.8 1507L908.7 1507L897.6 1507L886.5 1507L875.4 1507L864.3 1507L853.2 1507L842.1 1507L831 1507L819.9 1507L808.8 1507L797.7 1507L786.6 1507L775.5 1507L764.4 1507L753.3 1507L742.2 1507L731.1 1507L720 1507L708.9 1507L697.8 1507L686.7 1507L675.6 1507L664.5 1507L653.4 1507L642.3 1507L631.2 1507L620.1 1507L609 1507L597.9 1507L586.8 1507L575.7 1507L564.6 1507L553.5 1507L542.4 1507L531.3 1507L520.2 1507L509.1 1507L498 1507L486.9 1507L475.8 1507L464.7 1507L453.6 1507L442.5 1507L431.4 1507L420.3 1507L409.2 1507L398.1 1507L387 1507L375.9 1507L364.8 1507L353.7 1507L342.6 1507L331.5 1507L320.4 1507L309.3 1507L298.2 1507L287.1 1507L276 1507L264.9 1507L253.8 1507L242.7 1507L231.6 1507L220.5 1507L209.4 1507L204.4 1507L209.4 1483L220.5 1499L231.6 1469L242.7 1489L253.8 1497L264.9 1463.5L266 1461.7L276 1452L287.1 1451L298.2 1456L300.9 1461.7L309.3 1468L310.8 1461.7L320.4 1436.4L331.5 1453L337.6 1461.7L342.6 1469L353.7 1464L364.8 1471L375.9 1463.5L387 1484L398.1 1478.1L409.2 1478L420.3 1472L431.4 1497L442.5 1488L453.6 1492L464.7 1479L475.8 1468L478.6 1461.7L486.9 1449L495.5 1461.7L498 1466L509.1 1464L513.1 1461.7L520.2 1457L526 1461.7L531.3 1465L542.4 1473L547.1 1461.7L553.5 1439L564.6 1444L575.7 1444L586.8 1452L597.9 1451L609 1438L620.1 1445L631.2 1440L642.3 1430L653.4 1436L664.5 1429L675.6 1421L686.7 1424L697.8 1418.2L708.9 1432L720 1435L724.9 1416.4ZM1164 1455.7L1175.1 1443.1L1186.2 1441.2L1197.3 1450.7L1208.4 1459.5L1212.3 1461.7L1219.5 1468.8L1230.6 1491.4L1234.1 1507L1230.6 1507L1219.5 1507L1208.4 1507L1197.3 1507L1186.2 1507L1175.1 1507L1164 1507L1152.9 1507L1141.8 1507L1130.7 1507L1119.6 1507L1115.7 1507L1119.6 1488.9L1130.7 1483.4L1141.8 1471.7L1152.9 1463.1L1155.3 1461.7ZM1463.7 1455.6L1474.8 1449.5L1485.9 1443.1L1497 1436.6L1508.1 1429.9L1519.2 1423L1530.5 1416.4L1530.5 1461.7L1530.5 1507L1519.2 1507L1508.1 1507L1497 1507L1485.9 1507L1474.8 1507L1463.7 1507L1452.6 1507L1441.5 1507L1430.4 1507L1419.3 1507L1408.2 1507L1397.1 1507L1386 1507L1374.9 1507L1363.8 1507L1352.7 1507L1341.6 1507L1330.5 1507L1319.4 1507L1318.9 1507L1319.4 1506.4L1330.5 1504L1341.6 1502.8L1352.7 1499L1363.8 1497.3L1374.9 1495.6L1386 1492.6L1397.1 1489.2L1408.2 1485.4L1419.3 1480.8L1430.4 1475.5L1441.5 1469.2L1452.6 1461.7L1452.6 1461.7ZM1275 1500.2L1286.1 1492.3L1295.9 1507L1286.1 1507L1275 1507L1271.5 1507Z"/>
<path fill="#FF8C00" fill-rule="evenodd" d="M364.8 1087.7L375.9 1087.6L376 1087.8L381.4 1099.1L387 1102.6L389.3 1099.1L398.1 1094.7L409.2 1096.3L420.3 1094.8L429.7 1099.1L431.4 1104L442.5 1099.7L443 1099.1L453.6 1091.6L464.7 1091.1L475.8 1092L486.9 1093.6L493.9 1099.1L498 1101.6L509.1 1109.1L520.2 1109.6L531.3 1109.1L542.4 1110.1L543.6 1110.5L549.9 1121.8L543 1144.4L542.4 1145.1L531.3 1147.4L520.2 1150.2L509.1 1150.9L498 1162.9L486.9 1158.6L475.8 1161.9L464.7 1159L453.6 1162.5L442.5 1152L431.4 1150.8L420.3 1159.2L409.2 1162.3L398.1 1157.9L389.3 1144.4L387 1140.8L384.7 1144.4L375.9 1155.7L364.8 1155.4L353.7 1158.2L342.6 1153.6L331.5 1156L320.4 1156L309.3 1155.2L298.2 1161.1L289.3 1167.1L287.1 1169.3L278.6 1167.1L276 1166.6L275.1 1167.1L264.9 1173.9L253.8 1171.3L251.4 1167.1L242.7 1148.5L240.8 1144.4L231.6 1129.9L220.5 1131.5L214.5 1121.8L213.7 1110.5L219.4 1099.1L220.5 1097.9L222.1 1099.1L231.1 1110.5L231.6 1112.1L233.9 1110.5L242.7 1108.4L253.8 1104.3L264.9 1104.2L272 1099.1L276 1096.6L287.1 1096.6L298.2 1097L301.6 1099.1L309.3 1105.8L320.4 1103.6L331.5 1101L337.4 1099.1L342.6 1096.1L353.7 1092.6L364.4 1087.8ZM731.1 1086.9L742.2 1083.1L753.3 1085.9L759.8 1087.8L764.4 1089.3L772.1 1099.1L775.5 1102.9L785.1 1099.1L786.6 1098.8L797.7 1097.9L808.8 1095.1L819.9 1093.4L831 1093.3L842.1 1092.5L853.2 1090.7L864.3 1094.6L875.4 1089.3L876.8 1087.8L886.5 1082L897.6 1081.2L908.7 1080.3L919.8 1082.2L930.9 1081.4L942 1081.8L953.1 1081.8L964.2 1082L971.2 1087.8L974 1099.1L975.3 1102.6L978 1099.1L986.4 1094.2L997.5 1094.8L1008.6 1095.8L1019.7 1095.9L1030.8 1095.9L1041.9 1095.5L1053 1098.2L1064.1 1096.5L1075.2 1091.5L1086.3 1093.6L1092.8 1099.1L1097.4 1107.9L1099.5 1110.5L1101.4 1121.8L1097.4 1137L1086.3 1134.4L1075.2 1142.1L1064.1 1138.7L1053 1129.2L1041.9 1143.4L1030.8 1137.2L1019.7 1130.5L1008.6 1124.9L997.5 1126.2L986.4 1129.7L975.3 1134.2L964.2 1143.6L963 1144.4L953.1 1151.5L942 1157.3L934.2 1167.1L930.9 1173.7L919.8 1188.4L908.7 1186.3L897.6 1188.2L886.5 1187.5L875.4 1183L864.3 1181.5L853.2 1182.5L842.1 1173.2L831 1172.5L819.9 1176.9L808.8 1171.7L797.7 1173.2L786.6 1175L775.5 1176.3L764.4 1176.9L753.3 1183.3L742.2 1174.5L731.1 1179.8L720 1187.4L717.5 1189.8L708.9 1211.5L697.8 1208.7L688 1189.8L686.7 1188.6L675.6 1188.7L674.6 1189.8L664.5 1212.6L655.5 1189.8L653.4 1187.3L642.3 1176.6L637.4 1167.1L631.2 1158.3L626.5 1144.4L623.3 1121.8L629.9 1110.5L631.2 1109.7L642.3 1104.8L653.4 1104.4L664.5 1101.9L675.6 1103.5L686.7 1102.6L697.8 1100.1L699.8 1099.1L708.9 1094.4L720 1090.8L728.9 1087.8ZM1152.9 1096.1L1164 1094.8L1175.1 1094.2L1186.2 1093.2L1197.3 1095.2L1201.3 1099.1L1208.4 1105.5L1215.4 1110.5L1219.5 1113.8L1223.6 1110.5L1230.6 1104.8L1241.7 1105.2L1252.8 1107.6L1263.9 1109.1L1268.8 1110.5L1275 1114.8L1281.6 1121.8L1275 1129.8L1268.3 1144.4L1264.1 1167.1L1263.9 1168L1262.4 1167.1L1252.8 1164L1241.7 1160.4L1236.3 1167.1L1230.6 1175L1223.3 1167.1L1219.5 1164.2L1217.9 1167.1L1208.4 1181.8L1197.3 1168.8L1193.6 1167.1L1186.2 1165.7L1183.6 1167.1L1175.1 1175L1164 1179.7L1152.9 1179.8L1141.8 1172.8L1130.7 1167.8L1130.4 1167.1L1125.8 1144.4L1127.4 1121.8L1129.7 1110.5L1130.7 1110.1L1141.8 1109.6L1148.4 1099.1ZM1207.2 1144.4L1208.4 1148.8L1210.2 1144.4L1208.4 1143ZM1430.4 1103.7L1441.5 1108.5L1452.6 1109.5L1463.7 1106.3L1474.8 1107.5L1485.9 1106.9L1497 1108L1508.1 1108.7L1519.2 1104.3L1530.5 1109.3L1530.5 1110.5L1530.5 1121.8L1530.5 1144.4L1530.5 1167.1L1530.5 1189.8L1530.5 1200.7L1523.7 1189.8L1519.2 1183.5L1514.7 1189.8L1508.1 1205.2L1497 1206.5L1485.9 1211L1474.8 1209.7L1463.7 1208.9L1452.6 1209.3L1441.5 1210.4L1430.4 1210.3L1419.3 1206.1L1411.9 1189.8L1408.2 1183.1L1397.1 1175.7L1386 1173.6L1384.5 1167.1L1386 1158.2L1389.2 1144.4L1390.9 1121.8L1397.1 1116.8L1408.2 1119.3L1419.3 1112.2L1421 1110.5ZM575.7 1118.3L579.7 1121.8L575.7 1126.8L571.8 1121.8ZM1108.5 1158.9L1111.7 1167.1L1108.5 1174.5L1105.6 1167.1ZM731.1 1265.6L733.1 1280.4L731.1 1293.7L729.1 1280.4ZM298.2 1505.5L301.4 1507L298.2 1507L295.5 1507ZM320.4 1472.7L330.2 1507L320.4 1507L313.6 1507ZM553.5 1498.1L564.6 1485.3L575.7 1490.1L582.6 1507L575.7 1507L564.6 1507L553.5 1507L548.8 1507ZM597.9 1503.6L609 1499.6L620.1 1493.4L631.2 1488L642.3 1478.6L653.4 1480.2L664.5 1476.5L675.6 1474.6L686.7 1480.6L697.8 1482.3L708.9 1488.9L720 1492.6L731.1 1498.1L742.2 1500L752.1 1507L742.2 1507L731.1 1507L720 1507L708.9 1507L697.8 1507L686.7 1507L675.6 1507L664.5 1507L653.4 1507L642.3 1507L631.2 1507L620.1 1507L609 1507L597.9 1507L595.1 1507ZM930.9 1491.7L940.8 1507L930.9 1507L921.6 1507ZM1175.1 1497.5L1182.4 1507L1175.1 1507L1168.1 1507Z"/>
<path fill="#FF3700" fill-rule="evenodd" d="M742.2 1087.3L744.2 1087.8L753.3 1090.2L764.4 1094.4L768.1 1099.1L775.5 1107.2L786.6 1103.5L797.7 1102.2L802.9 1099.1L808.8 1097.6L819.9 1096L831 1095.9L842.1 1095.4L853.2 1093.3L864.3 1096.7L875.4 1092.8L880 1087.8L886.5 1083.9L897.6 1083.3L908.7 1082.6L919.8 1084.7L930.9 1083.4L942 1083.7L953.1 1083.7L964.2 1084.8L967.9 1087.8L970.2 1099.1L973.7 1110.5L975.3 1115.4L979.2 1110.5L986.2 1099.1L986.4 1099L997.5 1098.5L1008.6 1098.4L1019.7 1098.6L1030.8 1098.7L1041.9 1098.1L1045.8 1099.1L1052.8 1110.5L1048.2 1121.8L1041.9 1129.9L1030.8 1125.7L1026.9 1121.8L1019.8 1110.5L1019.7 1109.8L1008.6 1103.7L997.5 1102.8L992.8 1110.5L986.4 1116.6L980.4 1121.8L975.3 1124.9L964.2 1133.1L953.1 1141.6L946.2 1144.4L942 1146.8L930.9 1158.3L923.1 1167.1L919.8 1171.5L908.7 1173.1L897.6 1168.1L895.8 1167.1L886.5 1163.6L875.4 1161.5L864.3 1161.4L853.2 1161.9L842.1 1152.5L831 1151L819.9 1154.3L808.8 1145.9L797.7 1151.2L786.6 1154.7L775.5 1155.3L764.9 1144.4L764.4 1144.2L764.3 1144.4L753.3 1164.3L742.2 1161.6L736.6 1167.1L731.1 1170.4L720 1174.7L708.9 1182.6L697.8 1180.9L686.7 1174.4L675.6 1175L664.5 1185.9L653.4 1173.8L648.6 1167.1L642.3 1157.4L634 1144.4L631.2 1135.4L628.7 1121.8L631.2 1117.7L635.8 1110.5L642.3 1107.5L653.4 1106.2L664.5 1104.3L675.6 1105.7L686.7 1104.9L697.8 1103.4L706.5 1099.1L708.9 1097.9L720 1094.5L731.1 1090.8L740.7 1087.8ZM276 1099L287.1 1098.7L291.4 1099.1L298.2 1101.4L309.3 1110L320.4 1107.2L331.5 1104L342.6 1102.1L347.5 1099.1L353.7 1096.8L364.8 1096.2L369.4 1099.1L375.9 1110.2L387 1109.2L393.6 1099.1L398.1 1096.8L407.7 1099.1L402.5 1110.4L409.2 1117.6L413.4 1110.5L413.9 1099.1L420.3 1098.3L422 1099.1L425.8 1110.5L422.6 1121.8L420.3 1125.1L411.3 1144.4L409.2 1146.5L398.1 1145.5L397.4 1144.4L387 1127.9L376.6 1144.4L375.9 1145.3L364.8 1145.3L353.7 1149.3L346.1 1144.4L342.6 1140.6L335.1 1144.4L331.5 1145.7L320.4 1145.8L309.3 1145.6L298.2 1151.9L287.1 1159.8L276 1156.6L264.9 1163.7L253.8 1161.8L245.5 1144.4L242.7 1130.9L236 1121.8L242.7 1116.4L246.1 1110.5L253.8 1107L264.9 1106.9L275.9 1099.1ZM453.6 1095.3L464.7 1094.8L475.8 1095.9L486.9 1097.3L489.2 1099.1L498 1104.6L507 1110.5L509.1 1115.2L520.2 1114.1L531.3 1115.8L537.8 1121.8L531.3 1132.2L520.2 1138L509.1 1133.8L504.5 1144.4L498 1152.5L486.9 1149.3L475.8 1147.9L470.2 1144.4L464.7 1139.9L453.6 1136.6L442.5 1135.3L434.5 1121.8L437 1110.5L442.5 1106.1L448.3 1099.1ZM1075.2 1095L1086.3 1096.6L1089.4 1099.1L1095 1110.5L1092.7 1121.8L1086.3 1126.8L1075.2 1132.2L1064.1 1130.8L1056.1 1121.8L1053.1 1110.5L1064.1 1099.7L1065.1 1099.1ZM1152.9 1098.8L1164 1098.2L1175.1 1097.1L1186.2 1095.7L1197.3 1098.7L1197.8 1099.1L1208.4 1108.7L1210.8 1110.5L1219.5 1117.4L1228.2 1110.5L1230.6 1108.5L1241.7 1108.3L1252.8 1110.3L1253.4 1110.5L1263.9 1117.1L1269.9 1121.8L1263.9 1135.8L1252.8 1141.6L1241.7 1139.6L1231.7 1144.4L1230.6 1145.8L1227.4 1144.4L1219.5 1142.4L1208.4 1135L1200.6 1144.4L1197.3 1152.1L1186.2 1148.3L1175.1 1146.2L1164 1159.3L1152.9 1150.2L1149.2 1144.4L1146.5 1121.8L1146.4 1110.5L1152.4 1099.1ZM220.5 1102L226.9 1110.5L220.5 1121.2L216.4 1110.5ZM1430.4 1105.8L1440.5 1110.5L1441.5 1111.4L1452.6 1112.4L1457.2 1110.5L1463.7 1108.6L1474.8 1110.2L1485.9 1109.4L1497 1110.3L1500.3 1110.5L1508.1 1111.3L1509.1 1110.5L1519.2 1106.3L1528.1 1110.5L1530.5 1112.4L1530.5 1121.8L1530.5 1144.4L1530.5 1167.1L1530.5 1175.9L1522.5 1167.1L1519.2 1165.7L1508.1 1167L1507.8 1167.1L1497 1177.9L1485.9 1185.7L1474.8 1182.8L1463.7 1180.6L1452.6 1183.8L1441.5 1186.4L1430.4 1188.5L1419.3 1183L1410.6 1167.1L1408.2 1156.6L1402.6 1144.4L1408.2 1137.6L1410.9 1121.8L1419.3 1115.3L1423.9 1110.5ZM1397.1 1121.3L1398.5 1121.8L1397.1 1127.7L1396.5 1121.8Z"/>
<path fill="#E60000" fill-rule="evenodd" d="M886.5 1085.8L897.6 1085.4L908.7 1085L919.8 1087.1L930.9 1085.4L942 1085.6L953.1 1085.7L964.2 1087.5L964.5 1087.8L966.3 1099.1L967.5 1110.5L965.3 1121.8L964.2 1122.5L953.1 1133.8L942 1137.6L930.9 1143.9L929.9 1144.4L919.8 1153L908.7 1158.6L897.6 1154.4L886.5 1150.8L875.4 1149L864.3 1147.5L853.2 1147.9L849.9 1144.4L842.1 1133.6L831 1136.8L819.9 1137.9L808.8 1134.7L797.7 1131L786.6 1132.9L775.5 1131L764.4 1130.8L757.3 1144.4L753.3 1151.7L742.2 1146.1L731.1 1158.5L720 1158.4L708.9 1164.4L697.8 1159.1L686.7 1157.6L675.6 1160.7L664.5 1165.9L653.4 1161.7L643.1 1144.4L642.3 1140.5L636.4 1121.8L641.6 1110.5L642.3 1110.1L653.4 1108L664.5 1106.8L675.6 1107.8L686.7 1107.1L697.8 1106.6L708.9 1102.5L716.6 1099.1L720 1098.1L731.1 1094.5L742.2 1091.5L753.3 1094.5L763.7 1099.1L764.4 1100.8L771.4 1110.5L775.5 1114.9L780.1 1110.5L786.6 1108.7L797.7 1108.1L808.8 1101.8L816.2 1099.1L819.9 1098.6L831 1098.6L842.1 1098.3L853.2 1095.9L864.3 1098.8L875.4 1096.3L883.1 1087.8ZM398.1 1099L398.5 1099.1L398.1 1099.8L397.9 1099.1ZM453.6 1099L464.7 1098.6L470.2 1099.1L475.8 1100.4L486.9 1102.1L498 1107.5L502.6 1110.5L505.6 1121.8L498 1139.5L486.9 1138.7L475.8 1132.8L465.4 1121.8L464.7 1121.1L453.6 1116.1L447.6 1110.5L453.5 1099.1ZM1075.2 1098.6L1081.6 1099.1L1086.3 1100.1L1091 1110.4L1086.3 1119.3L1076.7 1121.8L1075.2 1122.3L1064.1 1123L1063 1121.8L1058.4 1110.5L1064.1 1104.9L1073.8 1099.1ZM1186.2 1098.1L1189.9 1099.1L1197.3 1104.7L1204.6 1110.5L1208.4 1115.1L1219.5 1121.1L1230.6 1113.6L1241.7 1114.2L1252.8 1119.1L1256.8 1121.8L1252.8 1126.2L1241.7 1128.1L1230.6 1134.4L1219.5 1125.1L1208.4 1127L1197.3 1138.2L1186.2 1138.2L1175.1 1135.3L1164 1140.5L1155 1121.8L1152.9 1117.6L1151.6 1110.5L1152.9 1108L1164 1108.5L1175.1 1101.3L1179.6 1099.1ZM220.5 1107.6L222.7 1110.5L220.5 1114.1L219.1 1110.5ZM253.8 1109.7L264.9 1109.7L276 1107.8L287.1 1107.3L298.2 1108.6L300.7 1110.5L309.3 1119.4L320.4 1111.6L321.1 1110.5L331.5 1106.9L342.6 1109.2L353.7 1102.1L364.8 1108.9L365.9 1110.5L366.1 1121.8L364.8 1123.3L353.7 1138.8L342.6 1126L331.5 1135.9L320.4 1132.1L309.3 1126.5L298.2 1141.9L295.9 1144.4L287.1 1151.1L276 1146.6L264.9 1155.6L253.8 1154.1L249.2 1144.4L244.8 1121.8L252.2 1110.5ZM1030.8 1109.4L1041.9 1106.1L1044.9 1110.5L1041.9 1115.9L1030.8 1111.7L1030 1110.5ZM1430.4 1108L1435.8 1110.5L1441.5 1115.7L1452.6 1115.9L1463.7 1111.6L1474.8 1114.7L1485.9 1113.2L1497 1114.9L1508.1 1115.7L1514.1 1110.5L1519.2 1108.3L1523.7 1110.4L1530.5 1116L1530.5 1121.8L1530.5 1144.4L1530.5 1161.6L1519.2 1155.5L1508.1 1158.2L1497 1161.9L1490.1 1167.1L1485.9 1171.8L1476.2 1167.1L1474.8 1166.6L1463.7 1164.1L1454.4 1167.1L1452.6 1168.1L1441.5 1173.3L1430.4 1169.9L1424.1 1167.1L1419.3 1164.7L1412.9 1144.4L1415 1121.8L1419.3 1118.4L1426.9 1110.5ZM398.1 1119.5L400.3 1121.8L398.1 1125.5L395.3 1121.8ZM520.2 1120.1L525.2 1121.8L520.2 1125.4L515.4 1121.8Z"/>
<path fill="#990000" fill-rule="evenodd" d="M886.5 1087.7L897.6 1087.5L908.7 1087.3L911 1087.8L919.8 1097.8L928.7 1087.8L930.9 1087.4L942 1087.4L953.1 1087.6L954.4 1087.8L961.6 1099.1L962 1110.5L957.2 1121.8L953.1 1126L942 1128.8L930.9 1132.8L919.8 1133.6L908.7 1143.4L897.6 1141.4L886.5 1138.9L875.4 1134.5L864.3 1127.3L853.2 1135.8L844.7 1121.8L842.3 1110.5L850.6 1099.1L853.2 1098.5L855.5 1099.1L862.6 1110.5L864.3 1116L867.8 1110.5L875.4 1102L877 1099.1L886.3 1087.8ZM731.1 1098.3L742.2 1095.7L753.3 1098.7L754.2 1099.1L760.8 1110.5L762.6 1121.8L753.3 1139.9L742.2 1132.8L731.8 1144.4L731.1 1145.2L729.5 1144.4L720 1140.2L714.1 1144.4L708.9 1149.1L703.7 1144.4L697.8 1138.8L686.7 1141.1L677.8 1144.4L675.6 1145.6L664.5 1152.3L653.4 1150.9L649.6 1144.4L644.4 1121.8L649.9 1110.5L653.4 1109.7L664.5 1109.3L675.6 1110L686.7 1109.4L697.8 1109.9L708.9 1107.7L720 1104.1L728.4 1099.1ZM331.5 1109.9L333.6 1110.5L335.8 1121.8L331.5 1126.2L324.6 1121.8L329.9 1110.5ZM353.7 1108.6L356.4 1110.5L356.8 1121.8L353.7 1126.2L350 1121.8L350.9 1110.5ZM475.8 1109.1L486.9 1108L498 1110.4L498.1 1110.5L498 1111.4L494.3 1121.8L486.9 1126.5L480.4 1121.8L475.8 1114.6L472.3 1110.5ZM808.8 1108.6L819.9 1107.3L831 1108.4L840.6 1110.5L836 1121.8L831 1125.3L819.9 1124.9L808.8 1124.3L805.2 1121.8L805.3 1110.5ZM1064.1 1110L1075.2 1108.1L1086.3 1108.9L1087 1110.5L1086.3 1111.8L1075.2 1112.6L1064.1 1111.4L1063.7 1110.5ZM1175.1 1108.8L1186.2 1103.6L1196.1 1110.5L1197.3 1113.2L1202.7 1121.8L1197.3 1125.8L1186.2 1130.2L1175.1 1125.6L1169.3 1121.8L1172.8 1110.5ZM1430.4 1110.1L1431.1 1110.5L1441.5 1120L1452.6 1119.5L1463.7 1117L1474.8 1119.4L1485.9 1118.2L1497 1119.7L1508.1 1120.1L1519 1110.5L1519.2 1110.4L1519.3 1110.5L1530.5 1119.5L1530.5 1121.8L1530.5 1144.4L1530.5 1153.6L1519.2 1145.3L1508.1 1149.5L1497 1152.6L1485.9 1160.7L1474.8 1157.2L1463.7 1155.1L1452.6 1158.3L1441.5 1161.4L1430.4 1157.5L1419.6 1144.4L1419.3 1137.2L1419 1121.8L1419.3 1121.5L1429.9 1110.4ZM253.8 1114.9L264.9 1116L276 1119.9L287.1 1117.2L298.2 1117L302.8 1121.8L298.2 1128.8L287.1 1136.7L276 1125.2L268.5 1144.4L264.9 1147.5L253.8 1146.3L252.9 1144.4L249 1121.8ZM1230.6 1120.4L1234.1 1121.8L1230.6 1123.9L1228.4 1121.8Z"/>
<path fill="#236E96" fill-rule="evenodd" d="M198.3 1058.1L202.8 1058.1L209.4 1062.6L209.7 1062.9L212.2 1067.4L216.7 1076.5L210.6 1087.8L209.4 1089.2L198.8 1099.1L198.3 1099.7L187.2 1099.6L186.7 1099.1L182.7 1087.8L182.9 1076.5L187.2 1067.4L187.2 1067.4L189.7 1062.9L193.8 1058.1ZM553.5 1058.1L564.6 1058.1L571.2 1058.1L568.3 1062.9L564.6 1066.9L553.5 1067.4L549.9 1062.9L546.9 1058.1ZM1286.1 1061.6L1297.2 1060.4L1308.3 1060.8L1319.4 1062.5L1330.5 1061.5L1332.4 1062.9L1341.6 1067.2L1342 1067.4L1347.5 1076.5L1343.1 1087.8L1341.6 1088.7L1339.4 1087.8L1330.5 1082.8L1319.4 1081.9L1308.3 1081.9L1297.2 1083.9L1286.1 1080.7L1275 1076.7L1274.9 1076.5L1273.3 1067.4L1275 1065.1L1279.1 1062.9ZM231.6 1067L234.4 1067.4L242.7 1071.5L249.4 1076.5L242.7 1078.9L231.6 1084.4L223.2 1076.5L230.2 1067.4ZM264.9 1067.4L276 1066.9L287.1 1066.7L289.6 1067.4L294.2 1076.5L287.1 1080.2L276 1076.6L264.9 1082.8L256.8 1076.5L264.9 1067.4ZM1252.8 1065.1L1255 1067.4L1252.8 1068.5L1249 1067.4ZM1397.1 1087.1L1399.4 1087.8L1397.1 1088.2L1395.1 1087.8Z"/>
<path fill="#3C4BD2" fill-rule="evenodd" d="M198.3 1062.8L198.4 1062.9L200.8 1067.4L198.3 1073.4L196.4 1067.4L198.2 1062.9ZM1286.1 1066.6L1297.2 1063.8L1308.3 1064.3L1319.4 1066.7L1330.5 1066.5L1332.4 1067.4L1330.5 1069.5L1319.4 1069.2L1308.3 1073.1L1297.2 1074.3L1286.1 1069L1284.4 1067.4ZM231.6 1075.2L233.8 1076.5L231.6 1077.5L230.5 1076.5Z"/>
<path fill="#6428FA" fill-rule="evenodd" d="M1297.2 1066.6L1308.3 1067L1310.1 1067.4L1308.3 1068.2L1297.2 1068.9L1294.4 1067.4Z"/>
<rect x="1419.4" y="1416.4" width="33.2" height="91.6" fill="#fff"/>
<rect x="1463.6" y="1416.4" width="44.5" height="91.6" fill="#fff"/></g>
<rect x="145.8" y="12.2" width="1440.2" height="453.2" fill="none" stroke="#000" stroke-width="3.8"/>
<path d="M228.7 12.2v10M228.7 465.4v-10" stroke="#000" stroke-width="3.4"/>
<path d="M314.7 12.2v10M314.7 465.4v-10" stroke="#000" stroke-width="3.4"/>
<path d="M398 12.2v10M398 465.4v-10" stroke="#000" stroke-width="3.4"/>
<path d="M484 12.2v10M484 465.4v-10" stroke="#000" stroke-width="3.4"/>
<path d="M570 12.2v10M570 465.4v-10" stroke="#000" stroke-width="3.4"/>
<path d="M653.3 12.2v10M653.3 465.4v-10" stroke="#000" stroke-width="3.4"/>
<path d="M739.3 12.2v10M739.3 465.4v-10" stroke="#000" stroke-width="3.4"/>
<path d="M822.5 12.2v10M822.5 465.4v-10" stroke="#000" stroke-width="3.4"/>
<path d="M908.6 12.2v10M908.6 465.4v-10" stroke="#000" stroke-width="3.4"/>
<path d="M994.6 12.2v10M994.6 465.4v-10" stroke="#000" stroke-width="3.4"/>
<path d="M1075.1 12.2v10M1075.1 465.4v-10" stroke="#000" stroke-width="3.4"/>
<path d="M1161.1 12.2v10M1161.1 465.4v-10" stroke="#000" stroke-width="3.4"/>
<path d="M1244.3 12.2v10M1244.3 465.4v-10" stroke="#000" stroke-width="3.4"/>
<path d="M1330.4 12.2v10M1330.4 465.4v-10" stroke="#000" stroke-width="3.4"/>
<path d="M1413.6 12.2v10M1413.6 465.4v-10" stroke="#000" stroke-width="3.4"/>
<path d="M1499.7 12.2v10M1499.7 465.4v-10" stroke="#000" stroke-width="3.4"/>
<path d="M145.8 57.5h8.2M1586 57.5h-8.2" stroke="#000" stroke-width="3.4"/>
<path d="M145.8 102.8h8.2M1586 102.8h-8.2" stroke="#000" stroke-width="3.4"/>
<path d="M145.8 148.2h8.2M1586 148.2h-8.2" stroke="#000" stroke-width="3.4"/>
<path d="M145.8 193.5h8.2M1586 193.5h-8.2" stroke="#000" stroke-width="3.4"/>
<path d="M145.8 238.8h8.2M1586 238.8h-8.2" stroke="#000" stroke-width="3.4"/>
<path d="M145.8 284.1h8.2M1586 284.1h-8.2" stroke="#000" stroke-width="3.4"/>
<path d="M145.8 329.4h8.2M1586 329.4h-8.2" stroke="#000" stroke-width="3.4"/>
<path d="M145.8 374.8h8.2M1586 374.8h-8.2" stroke="#000" stroke-width="3.4"/>
<path d="M145.8 420.1h8.2M1586 420.1h-8.2" stroke="#000" stroke-width="3.4"/>
<rect x="145.8" y="533" width="1440.2" height="453.2" fill="none" stroke="#000" stroke-width="3.8"/>
<path d="M228.7 533v10M228.7 986.2v-10" stroke="#000" stroke-width="3.4"/>
<path d="M314.7 533v10M314.7 986.2v-10" stroke="#000" stroke-width="3.4"/>
<path d="M398 533v10M398 986.2v-10" stroke="#000" stroke-width="3.4"/>
<path d="M484 533v10M484 986.2v-10" stroke="#000" stroke-width="3.4"/>
<path d="M570 533v10M570 986.2v-10" stroke="#000" stroke-width="3.4"/>
<path d="M653.3 533v10M653.3 986.2v-10" stroke="#000" stroke-width="3.4"/>
<path d="M739.3 533v10M739.3 986.2v-10" stroke="#000" stroke-width="3.4"/>
<path d="M822.5 533v10M822.5 986.2v-10" stroke="#000" stroke-width="3.4"/>
<path d="M908.6 533v10M908.6 986.2v-10" stroke="#000" stroke-width="3.4"/>
<path d="M994.6 533v10M994.6 986.2v-10" stroke="#000" stroke-width="3.4"/>
<path d="M1075.1 533v10M1075.1 986.2v-10" stroke="#000" stroke-width="3.4"/>
<path d="M1161.1 533v10M1161.1 986.2v-10" stroke="#000" stroke-width="3.4"/>
<path d="M1244.3 533v10M1244.3 986.2v-10" stroke="#000" stroke-width="3.4"/>
<path d="M1330.4 533v10M1330.4 986.2v-10" stroke="#000" stroke-width="3.4"/>
<path d="M1413.6 533v10M1413.6 986.2v-10" stroke="#000" stroke-width="3.4"/>
<path d="M1499.7 533v10M1499.7 986.2v-10" stroke="#000" stroke-width="3.4"/>
<path d="M145.8 578.3h8.2M1586 578.3h-8.2" stroke="#000" stroke-width="3.4"/>
<path d="M145.8 623.6h8.2M1586 623.6h-8.2" stroke="#000" stroke-width="3.4"/>
<path d="M145.8 669h8.2M1586 669h-8.2" stroke="#000" stroke-width="3.4"/>
<path d="M145.8 714.3h8.2M1586 714.3h-8.2" stroke="#000" stroke-width="3.4"/>
<path d="M145.8 759.6h8.2M1586 759.6h-8.2" stroke="#000" stroke-width="3.4"/>
<path d="M145.8 804.9h8.2M1586 804.9h-8.2" stroke="#000" stroke-width="3.4"/>
<path d="M145.8 850.2h8.2M1586 850.2h-8.2" stroke="#000" stroke-width="3.4"/>
<path d="M145.8 895.6h8.2M1586 895.6h-8.2" stroke="#000" stroke-width="3.4"/>
<path d="M145.8 940.9h8.2M1586 940.9h-8.2" stroke="#000" stroke-width="3.4"/>
<rect x="145.8" y="1053.8" width="1440.2" height="453.2" fill="none" stroke="#000" stroke-width="3.8"/>
<path d="M228.7 1053.8v10M228.7 1507v-10" stroke="#000" stroke-width="3.4"/>
<path d="M314.7 1053.8v10M314.7 1507v-10" stroke="#000" stroke-width="3.4"/>
<path d="M398 1053.8v10M398 1507v-10" stroke="#000" stroke-width="3.4"/>
<path d="M484 1053.8v10M484 1507v-10" stroke="#000" stroke-width="3.4"/>
<path d="M570 1053.8v10M570 1507v-10" stroke="#000" stroke-width="3.4"/>
<path d="M653.3 1053.8v10M653.3 1507v-10" stroke="#000" stroke-width="3.4"/>
<path d="M739.3 1053.8v10M739.3 1507v-10" stroke="#000" stroke-width="3.4"/>
<path d="M822.5 1053.8v10M822.5 1507v-10" stroke="#000" stroke-width="3.4"/>
<path d="M908.6 1053.8v10M908.6 1507v-10" stroke="#000" stroke-width="3.4"/>
<path d="M994.6 1053.8v10M994.6 1507v-10" stroke="#000" stroke-width="3.4"/>
<path d="M1075.1 1053.8v10M1075.1 1507v-10" stroke="#000" stroke-width="3.4"/>
<path d="M1161.1 1053.8v10M1161.1 1507v-10" stroke="#000" stroke-width="3.4"/>
<path d="M1244.3 1053.8v10M1244.3 1507v-10" stroke="#000" stroke-width="3.4"/>
<path d="M1330.4 1053.8v10M1330.4 1507v-10" stroke="#000" stroke-width="3.4"/>
<path d="M1413.6 1053.8v10M1413.6 1507v-10" stroke="#000" stroke-width="3.4"/>
<path d="M1499.7 1053.8v10M1499.7 1507v-10" stroke="#000" stroke-width="3.4"/>
<path d="M145.8 1099.1h8.2M1586 1099.1h-8.2" stroke="#000" stroke-width="3.4"/>
<path d="M145.8 1144.4h8.2M1586 1144.4h-8.2" stroke="#000" stroke-width="3.4"/>
<path d="M145.8 1189.8h8.2M1586 1189.8h-8.2" stroke="#000" stroke-width="3.4"/>
<path d="M145.8 1235.1h8.2M1586 1235.1h-8.2" stroke="#000" stroke-width="3.4"/>
<path d="M145.8 1280.4h8.2M1586 1280.4h-8.2" stroke="#000" stroke-width="3.4"/>
<path d="M145.8 1325.7h8.2M1586 1325.7h-8.2" stroke="#000" stroke-width="3.4"/>
<path d="M145.8 1371h8.2M1586 1371h-8.2" stroke="#000" stroke-width="3.4"/>
<path d="M145.8 1416.4h8.2M1586 1416.4h-8.2" stroke="#000" stroke-width="3.4"/>
<path d="M145.8 1461.7h8.2M1586 1461.7h-8.2" stroke="#000" stroke-width="3.4"/>
<rect x="1604.2" y="69.3" width="34" height="57.8" fill="#D90000"/>
<rect x="1604.2" y="126.6" width="34" height="57.8" fill="#FF1E00"/>
<rect x="1604.2" y="183.9" width="34" height="57.8" fill="#FF5F00"/>
<rect x="1604.2" y="241.2" width="34" height="57.8" fill="#FFA000"/>
<rect x="1604.2" y="298.5" width="34" height="57.8" fill="#FFE100"/>
<rect x="1604.2" y="355.8" width="34" height="57.8" fill="#E5F50F"/>
<rect x="1604.2" y="413.1" width="34" height="57.8" fill="#B4E11E"/>
<rect x="1604.2" y="470.4" width="34" height="57.8" fill="#82D223"/>
<rect x="1604.2" y="527.7" width="34" height="57.8" fill="#55BB32"/>
<rect x="1604.2" y="585" width="34" height="57.8" fill="#23AA46"/>
<rect x="1604.2" y="642.3" width="34" height="57.8" fill="#05915F"/>
<rect x="1604.2" y="699.6" width="34" height="57.8" fill="#1E738C"/>
<rect x="1604.2" y="756.9" width="34" height="57.8" fill="#2D58BB"/>
<rect x="1604.2" y="814.2" width="34" height="57.8" fill="#423CE8"/>
<rect x="1604.2" y="871.5" width="34" height="57.8" fill="#7D1EFA"/>
<polygon points="1604.2,69.3 1621.2,10.5 1638.2,69.3" fill="#990000" stroke="#000" stroke-width="2.4" stroke-linejoin="miter"/>
<polygon points="1604.2,928.8 1621.2,984.5 1638.2,928.8" fill="#CC00FF" stroke="#000" stroke-width="2.4" stroke-linejoin="miter"/>
<rect x="1604.2" y="69.3" width="34" height="859.5" fill="none" stroke="#000" stroke-width="2.6"/>
<path d="M1604.2 126.6H1638.2" stroke="#000" stroke-width="2.4"/>
<path d="M1604.2 183.9H1638.2" stroke="#000" stroke-width="2.4"/>
<path d="M1604.2 241.2H1638.2" stroke="#000" stroke-width="2.4"/>
<path d="M1604.2 298.5H1638.2" stroke="#000" stroke-width="2.4"/>
<path d="M1604.2 355.8H1638.2" stroke="#000" stroke-width="2.4"/>
<path d="M1604.2 413.1H1638.2" stroke="#000" stroke-width="2.4"/>
<path d="M1604.2 470.4H1638.2" stroke="#000" stroke-width="2.4"/>
<path d="M1604.2 527.7H1638.2" stroke="#000" stroke-width="2.4"/>
<path d="M1604.2 585H1638.2" stroke="#000" stroke-width="2.4"/>
<path d="M1604.2 642.3H1638.2" stroke="#000" stroke-width="2.4"/>
<path d="M1604.2 699.6H1638.2" stroke="#000" stroke-width="2.4"/>
<path d="M1604.2 756.9H1638.2" stroke="#000" stroke-width="2.4"/>
<path d="M1604.2 814.2H1638.2" stroke="#000" stroke-width="2.4"/>
<path d="M1604.2 871.5H1638.2" stroke="#000" stroke-width="2.4"/>
<rect x="1604.2" y="1085.4" width="34" height="33" fill="#E60000"/>
<rect x="1604.2" y="1117.9" width="34" height="33" fill="#FF3700"/>
<rect x="1604.2" y="1150.5" width="34" height="33" fill="#FF8C00"/>
<rect x="1604.2" y="1183" width="34" height="33" fill="#FFDC00"/>
<rect x="1604.2" y="1215.5" width="34" height="33" fill="#E1F00F"/>
<rect x="1604.2" y="1248.1" width="34" height="33" fill="#A0DC1E"/>
<rect x="1604.2" y="1280.6" width="34" height="33" fill="#64BE32"/>
<rect x="1604.2" y="1313.1" width="34" height="33" fill="#2DAA4B"/>
<rect x="1604.2" y="1345.6" width="34" height="33" fill="#0A915F"/>
<rect x="1604.2" y="1378.2" width="34" height="33" fill="#236E96"/>
<rect x="1604.2" y="1410.7" width="34" height="33" fill="#3C4BD2"/>
<rect x="1604.2" y="1443.2" width="34" height="33" fill="#6428FA"/>
<polygon points="1604.2,1085.4 1621.2,1053.5 1638.2,1085.4" fill="#990000" stroke="#000" stroke-width="2.4"/>
<polygon points="1604.2,1475.8 1621.2,1507.5 1638.2,1475.8" fill="#CC00FF" stroke="#000" stroke-width="2.4"/>
<rect x="1604.2" y="1085.4" width="34" height="390.4" fill="none" stroke="#000" stroke-width="2.6"/>
<path d="M1604.2 1117.9H1638.2" stroke="#000" stroke-width="2.4"/>
<path d="M1604.2 1150.5H1638.2" stroke="#000" stroke-width="2.4"/>
<path d="M1604.2 1183H1638.2" stroke="#000" stroke-width="2.4"/>
<path d="M1604.2 1215.5H1638.2" stroke="#000" stroke-width="2.4"/>
<path d="M1604.2 1248.1H1638.2" stroke="#000" stroke-width="2.4"/>
<path d="M1604.2 1280.6H1638.2" stroke="#000" stroke-width="2.4"/>
<path d="M1604.2 1313.1H1638.2" stroke="#000" stroke-width="2.4"/>
<path d="M1604.2 1345.6H1638.2" stroke="#000" stroke-width="2.4"/>
<path d="M1604.2 1378.2H1638.2" stroke="#000" stroke-width="2.4"/>
<path d="M1604.2 1410.7H1638.2" stroke="#000" stroke-width="2.4"/>
<path d="M1604.2 1443.2H1638.2" stroke="#000" stroke-width="2.4"/>
<clipPath id="cl1"><rect x="1825.8" y="12.2" width="480.4" height="453.2"/></clipPath>
<path d="M1856.8 16.7V465.4M1887.8 16.7V465.4M1918.8 16.7V465.4M1949.8 16.7V465.4M1980.8 16.7V465.4M2011.8 16.7V465.4M2042.8 16.7V465.4M2073.8 16.7V465.4M2104.8 16.7V465.4M2135.8 16.7V465.4M2166.8 16.7V465.4M2197.8 16.7V465.4M2228.8 16.7V465.4M2259.8 16.7V465.4M2290.8 16.7V465.4M1828.8 57.5H2306.2M1828.8 102.8H2306.2M1828.8 148.2H2306.2M1828.8 193.5H2306.2M1828.8 238.8H2306.2M1828.8 284.1H2306.2M1828.8 329.4H2306.2M1828.8 374.8H2306.2M1828.8 420.1H2306.2" stroke="#000" stroke-width="3" stroke-dasharray="3.6 6.7" fill="none"/>
<g clip-path="url(#cl1)"><polyline fill="none" stroke="#000" stroke-width="7.0" stroke-linejoin="miter" stroke-miterlimit="3" points="2216.5,17.6 2208.2,27.2 2196.3,38.4 2181.9,52.8 2153.1,67.2 2111.4,84.9 2073.0,102.5 2036.2,124.9 2013.8,147.3 1993.0,193.1 1980.2,238.6 1972.2,283.7 1962.5,328.9 1955.2,374.0 1951.3,419.5 1947.5,465.0"/><polyline fill="none" stroke="#FF0000" stroke-width="7.0" stroke-linejoin="miter" stroke-miterlimit="3" points="2225.1,17.6 2218.7,27.2 2207.5,36.8 2191.5,46.4 2159.5,57.6 2117.9,68.8 2084.2,80.1 2041.0,101.8 2015.4,124.9 2001.0,147.3 1985.0,193.1 1977.0,238.6 1969.0,283.7 1960.9,328.9 1948.1,374.0 1936.9,419.5 1926.7,465.0"/></g>
<path d="M2244.9 416.4H2294" stroke="#FF0000" stroke-width="7.3"/>
<path d="M2244.9 440.7H2294" stroke="#000" stroke-width="7.3"/>
<path d="M1856.8 12.2v7M1856.8 465.4v-7M1887.8 12.2v7M1887.8 465.4v-7M1918.8 12.2v7M1918.8 465.4v-7M1949.8 12.2v7M1949.8 465.4v-7M1980.8 12.2v7M1980.8 465.4v-7M2011.8 12.2v7M2011.8 465.4v-7M2042.8 12.2v7M2042.8 465.4v-7M2073.8 12.2v7M2073.8 465.4v-7M2104.8 12.2v7M2104.8 465.4v-7M2135.8 12.2v7M2135.8 465.4v-7M2166.8 12.2v7M2166.8 465.4v-7M2197.8 12.2v7M2197.8 465.4v-7M2228.8 12.2v7M2228.8 465.4v-7M2259.8 12.2v7M2259.8 465.4v-7M2290.8 12.2v7M2290.8 465.4v-7M1825.8 57.5h10.4M2306.2 57.5h-10.4M1825.8 102.8h10.4M2306.2 102.8h-10.4M1825.8 148.2h10.4M2306.2 148.2h-10.4M1825.8 193.5h10.4M2306.2 193.5h-10.4M1825.8 238.8h10.4M2306.2 238.8h-10.4M1825.8 284.1h10.4M2306.2 284.1h-10.4M1825.8 329.4h10.4M2306.2 329.4h-10.4M1825.8 374.8h10.4M2306.2 374.8h-10.4M1825.8 420.1h10.4M2306.2 420.1h-10.4" stroke="#000" stroke-width="3" fill="none"/>
<rect x="1825.8" y="12.2" width="480.4" height="453.2" fill="none" stroke="#000" stroke-width="3.2"/>
<clipPath id="cl2"><rect x="1825.8" y="533.0" width="480.4" height="453.2"/></clipPath>
<path d="M1963.0 533.0V986.2" stroke="#000" stroke-width="1.8"/>
<path d="M1860.1 537.5V986.2M1894.4 537.5V986.2M1928.7 537.5V986.2M1997.3 537.5V986.2M2031.7 537.5V986.2M2066.0 537.5V986.2M2100.3 537.5V986.2M2134.6 537.5V986.2M2168.9 537.5V986.2M2203.2 537.5V986.2M2237.5 537.5V986.2M2271.8 537.5V986.2M1828.8 578.3H2306.2M1828.8 623.6H2306.2M1828.8 669.0H2306.2M1828.8 714.3H2306.2M1828.8 759.6H2306.2M1828.8 804.9H2306.2M1828.8 850.2H2306.2M1828.8 895.6H2306.2M1828.8 940.9H2306.2" stroke="#000" stroke-width="3" stroke-dasharray="3.6 6.7" fill="none"/>
<g clip-path="url(#cl2)"><polyline fill="none" stroke="#000" stroke-width="7.0" stroke-linejoin="miter" stroke-miterlimit="3" points="2046.8,536.3 2012.2,544.6 2000.0,554.8 2010.6,567.0 2026.6,577.9 2044.2,586.9 2048.0,595.8 2042.6,606.1 2028.2,623.7 2002.6,646.1 1993.0,668.5 1981.8,713.7 1974.4,758.8 1973.1,804.0 1975.4,849.4 1976.3,894.9 1977.0,940.7 1977.0,986.2"/><polyline fill="none" stroke="#FF0000" stroke-width="7.0" stroke-linejoin="miter" stroke-miterlimit="3" points="2052.2,538.8 2021.8,551.6 2096.1,577.9 2050.6,599.7 2021.8,623.0 2015.4,646.1 2004.2,668.5 1993.0,713.7 1989.8,758.8 1986.6,804.0 1987.5,849.4 1988.2,894.9 1988.2,940.7 1987.5,986.2"/><polyline fill="none" stroke="#00FF00" stroke-width="7.0" stroke-linejoin="miter" stroke-miterlimit="3" points="1997.8,538.8 2012.2,543.6 2012.2,554.8 2063.4,577.9 2044.2,588.5 2034.6,602.9 2021.8,630.1 2009.0,650.9 1997.8,668.5 1986.6,713.7 1985.0,758.8 1982.7,804.0 1982.7,849.4 1982.7,894.9 1982.7,940.7 1983.4,986.2"/></g>
<path d="M2240.8 908.0H2293" stroke="#00FF00" stroke-width="7.5"/>
<path d="M2240.8 934.0H2293" stroke="#FF0000" stroke-width="7.5"/>
<path d="M2240.8 960.2H2293" stroke="#000" stroke-width="7.5"/>
<path d="M1860.1 533.0v7M1860.1 986.2v-7M1894.4 533.0v7M1894.4 986.2v-7M1928.7 533.0v7M1928.7 986.2v-7M1963.0 533.0v7M1963.0 986.2v-7M1997.3 533.0v7M1997.3 986.2v-7M2031.7 533.0v7M2031.7 986.2v-7M2066.0 533.0v7M2066.0 986.2v-7M2100.3 533.0v7M2100.3 986.2v-7M2134.6 533.0v7M2134.6 986.2v-7M2168.9 533.0v7M2168.9 986.2v-7M2203.2 533.0v7M2203.2 986.2v-7M2237.5 533.0v7M2237.5 986.2v-7M2271.8 533.0v7M2271.8 986.2v-7M1825.8 578.3h10.4M2306.2 578.3h-10.4M1825.8 623.6h10.4M2306.2 623.6h-10.4M1825.8 669.0h10.4M2306.2 669.0h-10.4M1825.8 714.3h10.4M2306.2 714.3h-10.4M1825.8 759.6h10.4M2306.2 759.6h-10.4M1825.8 804.9h10.4M2306.2 804.9h-10.4M1825.8 850.2h10.4M2306.2 850.2h-10.4M1825.8 895.6h10.4M2306.2 895.6h-10.4M1825.8 940.9h10.4M2306.2 940.9h-10.4" stroke="#000" stroke-width="3" fill="none"/>
<rect x="1825.8" y="533.0" width="480.4" height="453.2" fill="none" stroke="#000" stroke-width="3.2"/>
<clipPath id="cl3"><rect x="1825.8" y="1053.8" width="480.4" height="453.2"/></clipPath>
<path d="M1873.8 1058.3V1507.0M1921.9 1058.3V1507.0M1969.9 1058.3V1507.0M2018.0 1058.3V1507.0M2066.0 1058.3V1507.0M2114.0 1058.3V1507.0M2162.1 1058.3V1507.0M2210.1 1058.3V1507.0M2258.2 1058.3V1507.0M1828.8 1099.1H2306.2M1828.8 1144.4H2306.2M1828.8 1189.8H2306.2M1828.8 1235.1H2306.2M1828.8 1280.4H2306.2M1828.8 1325.7H2306.2M1828.8 1371.0H2306.2M1828.8 1416.4H2306.2M1828.8 1461.7H2306.2" stroke="#000" stroke-width="3" stroke-dasharray="3.6 6.7" fill="none"/>
<g clip-path="url(#cl3)"><polyline fill="none" stroke="#000" stroke-width="7.0" stroke-linejoin="miter" stroke-miterlimit="3" points="2262.6,1059.5 2255.5,1062.0 2096.1,1074.8 2089.0,1087.6 2154.7,1098.2 2154.7,1108.5 2132.3,1121.3 2082.0,1143.7 2060.2,1167.1 2125.9,1189.1 2156.3,1234.3 2069.8,1279.8 2100.2,1325.2 2127.5,1370.4 2156.3,1415.9 2121.1,1461.3 2069.8,1506.5"/></g>
<path d="M2240.8 1480.8H2293" stroke="#000" stroke-width="7.3"/>
<path d="M1873.8 1053.8v7M1873.8 1507.0v-7M1921.9 1053.8v7M1921.9 1507.0v-7M1969.9 1053.8v7M1969.9 1507.0v-7M2018.0 1053.8v7M2018.0 1507.0v-7M2066.0 1053.8v7M2066.0 1507.0v-7M2114.0 1053.8v7M2114.0 1507.0v-7M2162.1 1053.8v7M2162.1 1507.0v-7M2210.1 1053.8v7M2210.1 1507.0v-7M2258.2 1053.8v7M2258.2 1507.0v-7M1825.8 1099.1h10.4M2306.2 1099.1h-10.4M1825.8 1144.4h10.4M2306.2 1144.4h-10.4M1825.8 1189.8h10.4M2306.2 1189.8h-10.4M1825.8 1235.1h10.4M2306.2 1235.1h-10.4M1825.8 1280.4h10.4M2306.2 1280.4h-10.4M1825.8 1325.7h10.4M2306.2 1325.7h-10.4M1825.8 1371.0h10.4M2306.2 1371.0h-10.4M1825.8 1416.4h10.4M2306.2 1416.4h-10.4M1825.8 1461.7h10.4M2306.2 1461.7h-10.4" stroke="#000" stroke-width="3" fill="none"/>
<rect x="1825.8" y="1053.8" width="480.4" height="453.2" fill="none" stroke="#000" stroke-width="3.2"/>
<g font-family="Liberation Serif, serif" xml:space="preserve"><text transform="matrix(0.4310 0 0 0.3529 109.48 23.49)" font-size="100" font-weight="bold" stroke="#000" stroke-width="2.04">0</text>
<text transform="matrix(0.4134 0 0 0.3529 69.15 114.13)" font-size="100" font-weight="bold" stroke="#000" stroke-width="2.09">200</text>
<text transform="matrix(0.4138 0 0 0.3529 69.09 204.77)" font-size="100" font-weight="bold" stroke="#000" stroke-width="2.09">400</text>
<text transform="matrix(0.4126 0 0 0.3529 69.26 295.41)" font-size="100" font-weight="bold" stroke="#000" stroke-width="2.09">600</text>
<text transform="matrix(0.4126 0 0 0.3529 69.26 386.05)" font-size="100" font-weight="bold" stroke="#000" stroke-width="2.09">800</text>
<text transform="matrix(0.3888 0 0 0.3529 53.29 476.69)" font-size="100" font-weight="bold" stroke="#000" stroke-width="2.16">1000</text>
<text transform="matrix(0.4310 0 0 0.3529 109.48 544.29)" font-size="100" font-weight="bold" stroke="#000" stroke-width="2.04">0</text>
<text transform="matrix(0.4134 0 0 0.3529 69.15 634.93)" font-size="100" font-weight="bold" stroke="#000" stroke-width="2.09">200</text>
<text transform="matrix(0.4138 0 0 0.3529 69.09 725.57)" font-size="100" font-weight="bold" stroke="#000" stroke-width="2.09">400</text>
<text transform="matrix(0.4126 0 0 0.3529 69.26 816.21)" font-size="100" font-weight="bold" stroke="#000" stroke-width="2.09">600</text>
<text transform="matrix(0.4126 0 0 0.3529 69.26 906.85)" font-size="100" font-weight="bold" stroke="#000" stroke-width="2.09">800</text>
<text transform="matrix(0.3888 0 0 0.3529 53.29 997.49)" font-size="100" font-weight="bold" stroke="#000" stroke-width="2.16">1000</text>
<text transform="matrix(0.4310 0 0 0.3529 109.48 1065.09)" font-size="100" font-weight="bold" stroke="#000" stroke-width="2.04">0</text>
<text transform="matrix(0.4134 0 0 0.3529 69.15 1155.73)" font-size="100" font-weight="bold" stroke="#000" stroke-width="2.09">200</text>
<text transform="matrix(0.4138 0 0 0.3529 69.09 1246.37)" font-size="100" font-weight="bold" stroke="#000" stroke-width="2.09">400</text>
<text transform="matrix(0.4126 0 0 0.3529 69.26 1337.01)" font-size="100" font-weight="bold" stroke="#000" stroke-width="2.09">600</text>
<text transform="matrix(0.4126 0 0 0.3529 69.26 1427.65)" font-size="100" font-weight="bold" stroke="#000" stroke-width="2.09">800</text>
<text transform="matrix(0.3888 0 0 0.3529 53.29 1518.29)" font-size="100" font-weight="bold" stroke="#000" stroke-width="2.16">1000</text>
<text transform="matrix(0 -0.3164 0.3389 0 33.88 321.63)" font-size="100" font-weight="bold">DEPTH (m)</text>
<text transform="matrix(0 -0.3411 0.3611 0 25.62 847.48)" font-size="100" font-weight="bold">DEPTH (m)</text>
<text transform="matrix(0 -0.3341 0.3611 0 27.92 1366.77)" font-size="100" font-weight="bold">DEPTH (m)</text>
<text transform="matrix(0.6243 0 0 0.5578 48.60 56.09)" font-size="100" font-weight="normal">(a)</text>
<text transform="matrix(0.6435 0 0 0.5878 40.63 579.16)" font-size="100" font-weight="normal">(b)</text>
<text transform="matrix(0.6330 0 0 0.5822 44.57 1091.87)" font-size="100" font-weight="normal">(c)</text>
<text transform="matrix(0.4722 0 0 0.4100 1762.11 73.09)" font-size="100" font-weight="normal">(d)</text>
<text transform="matrix(0.5068 0 0 0.4267 1758.77 566.64)" font-size="100" font-weight="normal">(e)</text>
<text transform="matrix(0.4835 0 0 0.4272 1763.07 1089.83)" font-size="100" font-weight="normal">(f)</text>
<text transform="matrix(0.4554 0 0 0.5029 632.84 506.79)" font-size="100" font-weight="normal">ARGO</text>
<text transform="matrix(0.4862 0 0 0.5076 786.03 506.99)" font-size="100" font-weight="normal">TEMP</text>
<text transform="matrix(0.4828 0 0 0.5368 650.45 1030.53)" font-size="100" font-weight="normal">HYCOM</text>
<text transform="matrix(0.5195 0 0 0.5424 857.66 1030.76)" font-size="100" font-weight="normal">TEMP</text>
<text transform="matrix(0.4716 0 0 0.5412 540.59 1657.72)" font-size="100" font-weight="normal">HYCOM</text>
<text transform="matrix(0.4752 0 0 0.5412 761.82 1657.72)" font-size="100" font-weight="normal">ARGO</text>
<text transform="matrix(0.6731 0 0 0.5467 922.31 1654.52)" font-size="100" font-weight="normal">(</text>
<text transform="matrix(0.5130 0 0 0.5485 943.47 1657.85)" font-size="100" font-weight="normal">TEMP</text>
<text transform="matrix(0.6731 0 0 0.5467 1083.48 1654.52)" font-size="100" font-weight="normal">)</text>
<text transform="matrix(0.6171 0 0 0.5206 465.63 1602.56)" font-size="100" font-weight="normal" stroke="#000" stroke-width="1.58">2007</text>
<text transform="matrix(0.6271 0 0 0.5206 1185.09 1602.56)" font-size="100" font-weight="normal" stroke="#000" stroke-width="1.57">2008</text>
<text transform="matrix(0.2887 0 0 0.3803 176.54 1542.80)" font-size="100" font-weight="bold" stroke="#000" stroke-width="2.09">A</text>
<text transform="matrix(0.2822 0 0 0.3803 258.45 1542.42)" font-size="100" font-weight="bold" stroke="#000" stroke-width="2.11">M</text>
<text transform="matrix(0.3535 0 0 0.3803 347.34 1542.42)" font-size="100" font-weight="bold" stroke="#000" stroke-width="1.91">J</text>
<text transform="matrix(0.3535 0 0 0.3803 431.97 1542.42)" font-size="100" font-weight="bold" stroke="#000" stroke-width="1.91">J</text>
<text transform="matrix(0.2887 0 0 0.3803 516.47 1542.80)" font-size="100" font-weight="bold" stroke="#000" stroke-width="2.09">A</text>
<text transform="matrix(0.4239 0 0 0.3691 599.78 1542.06)" font-size="100" font-weight="bold" stroke="#000" stroke-width="1.77">S</text>
<text transform="matrix(0.3088 0 0 0.3691 684.24 1542.06)" font-size="100" font-weight="bold" stroke="#000" stroke-width="2.07">O</text>
<text transform="matrix(0.3420 0 0 0.3803 768.44 1542.42)" font-size="100" font-weight="bold" stroke="#000" stroke-width="1.94">N</text>
<text transform="matrix(0.3231 0 0 0.3862 854.42 1542.80)" font-size="100" font-weight="bold" stroke="#000" stroke-width="1.97">D</text>
<text transform="matrix(0.3535 0 0 0.3803 942.57 1542.42)" font-size="100" font-weight="bold" stroke="#000" stroke-width="1.91">J</text>
<text transform="matrix(0.3778 0 0 0.3862 1023.88 1542.80)" font-size="100" font-weight="bold" stroke="#000" stroke-width="1.83">F</text>
<text transform="matrix(0.2822 0 0 0.3803 1104.82 1542.42)" font-size="100" font-weight="bold" stroke="#000" stroke-width="2.11">M</text>
<text transform="matrix(0.2887 0 0 0.3803 1192.19 1542.80)" font-size="100" font-weight="bold" stroke="#000" stroke-width="2.09">A</text>
<text transform="matrix(0.2822 0 0 0.3803 1274.10 1542.42)" font-size="100" font-weight="bold" stroke="#000" stroke-width="2.11">M</text>
<text transform="matrix(0.3535 0 0 0.3803 1362.99 1542.42)" font-size="100" font-weight="bold" stroke="#000" stroke-width="1.91">J</text>
<text transform="matrix(0.3535 0 0 0.3803 1447.62 1542.42)" font-size="100" font-weight="bold" stroke="#000" stroke-width="1.91">J</text>
<text transform="matrix(0.2887 0 0 0.3803 1532.12 1542.80)" font-size="100" font-weight="bold" stroke="#000" stroke-width="2.09">A</text>
<text transform="matrix(0.3976 0 0 0.3441 1644.41 137.61)" font-size="100" font-weight="bold" stroke="#000" stroke-width="2.16">30.0</text>
<text transform="matrix(0.4000 0 0 0.3441 1644.00 252.21)" font-size="100" font-weight="bold" stroke="#000" stroke-width="2.15">26.0</text>
<text transform="matrix(0.4054 0 0 0.3441 1643.08 366.81)" font-size="100" font-weight="bold" stroke="#000" stroke-width="2.13">22.0</text>
<text transform="matrix(0.3969 0 0 0.3441 1644.52 481.41)" font-size="100" font-weight="bold" stroke="#000" stroke-width="2.16">18.0</text>
<text transform="matrix(0.3969 0 0 0.3441 1644.52 596.01)" font-size="100" font-weight="bold" stroke="#000" stroke-width="2.16">14.0</text>
<text transform="matrix(0.3969 0 0 0.3441 1644.52 710.61)" font-size="100" font-weight="bold" stroke="#000" stroke-width="2.16">10.0</text>
<text transform="matrix(0.3966 0 0 0.3441 1659.81 825.21)" font-size="100" font-weight="bold" stroke="#000" stroke-width="2.16">6.0</text>
<text transform="matrix(0.4000 0 0 0.3441 1659.40 939.81)" font-size="100" font-weight="bold" stroke="#000" stroke-width="2.15">2.0</text>
<text transform="matrix(0.3940 0 0 0.3441 1643.12 1096.41)" font-size="100" font-weight="bold" stroke="#000" stroke-width="2.17">3.0</text>
<text transform="matrix(0.3814 0 0 0.3493 1644.65 1194.35)" font-size="100" font-weight="bold" stroke="#000" stroke-width="2.19">1.5</text>
<text transform="matrix(0.3940 0 0 0.3441 1643.12 1291.61)" font-size="100" font-weight="bold" stroke="#000" stroke-width="2.17">0.0</text>
<text transform="matrix(0.3954 0 0 0.3493 1643.62 1389.55)" font-size="100" font-weight="bold" stroke="#000" stroke-width="2.15">−1.5</text>
<text transform="matrix(0.3954 0 0 0.3441 1643.62 1486.81)" font-size="100" font-weight="bold" stroke="#000" stroke-width="2.16">−3.0</text>
<text transform="matrix(0.3154 0 0 0.2662 1805.94 496.77)" font-size="100" font-weight="bold" stroke="#000" stroke-width="3.44">2.0</text>
<text transform="matrix(0.3119 0 0 0.2662 1868.76 496.77)" font-size="100" font-weight="bold" stroke="#000" stroke-width="3.46">6.0</text>
<text transform="matrix(0.2988 0 0 0.2662 1924.31 496.77)" font-size="100" font-weight="bold" stroke="#000" stroke-width="3.54">10.0</text>
<text transform="matrix(0.3043 0 0 0.2662 1985.77 496.77)" font-size="100" font-weight="bold" stroke="#000" stroke-width="3.51">14.0</text>
<text transform="matrix(0.3025 0 0 0.2662 2047.58 496.77)" font-size="100" font-weight="bold" stroke="#000" stroke-width="3.52">18.0</text>
<text transform="matrix(0.2952 0 0 0.2662 2109.62 496.77)" font-size="100" font-weight="bold" stroke="#000" stroke-width="3.56">22.0</text>
<text transform="matrix(0.2970 0 0 0.2662 2171.11 496.77)" font-size="100" font-weight="bold" stroke="#000" stroke-width="3.55">26.0</text>
<text transform="matrix(0.2976 0 0 0.2662 2233.51 496.77)" font-size="100" font-weight="bold" stroke="#000" stroke-width="3.55">30.0</text>
<text transform="matrix(0.3243 0 0 0.2750 1795.98 1019.35)" font-size="100" font-weight="bold" stroke="#000" stroke-width="3.34">−2.0</text>
<text transform="matrix(0.3329 0 0 0.2750 1864.84 1019.35)" font-size="100" font-weight="bold" stroke="#000" stroke-width="3.29">−1.0</text>
<text transform="matrix(0.3068 0 0 0.2750 1943.67 1019.35)" font-size="100" font-weight="bold" stroke="#000" stroke-width="3.44">0.0</text>
<text transform="matrix(0.3115 0 0 0.2750 2012.91 1019.35)" font-size="100" font-weight="bold" stroke="#000" stroke-width="3.41">1.0</text>
<text transform="matrix(0.3291 0 0 0.2750 2079.68 1019.35)" font-size="100" font-weight="bold" stroke="#000" stroke-width="3.31">2.0</text>
<text transform="matrix(0.3282 0 0 0.2750 2148.59 1019.35)" font-size="100" font-weight="bold" stroke="#000" stroke-width="3.32">3.0</text>
<text transform="matrix(0.3258 0 0 0.2750 2216.77 1019.35)" font-size="100" font-weight="bold" stroke="#000" stroke-width="3.33">4.0</text>
<text transform="matrix(0.3222 0 0 0.2750 2286.31 1019.35)" font-size="100" font-weight="bold" stroke="#000" stroke-width="3.35">5.0</text>
<text transform="matrix(0.3305 0 0 0.3015 1796.88 1540.40)" font-size="100" font-weight="bold" stroke="#000" stroke-width="3.16">0.00</text>
<text transform="matrix(0.3305 0 0 0.3015 1892.95 1540.40)" font-size="100" font-weight="bold" stroke="#000" stroke-width="3.16">0.20</text>
<text transform="matrix(0.3305 0 0 0.3015 1989.02 1540.40)" font-size="100" font-weight="bold" stroke="#000" stroke-width="3.16">0.40</text>
<text transform="matrix(0.3305 0 0 0.3015 2085.09 1540.40)" font-size="100" font-weight="bold" stroke="#000" stroke-width="3.16">0.60</text>
<text transform="matrix(0.3305 0 0 0.3015 2181.16 1540.40)" font-size="100" font-weight="bold" stroke="#000" stroke-width="3.16">0.80</text>
<text transform="matrix(0.3098 0 0 0.3015 2278.52 1540.40)" font-size="100" font-weight="bold" stroke="#000" stroke-width="3.27">1.00</text>
<text transform="matrix(0.2458 0 0 0.2485 2061.25 423.50)" font-size="100" font-weight="bold">ARGO_mean_T</text>
<text transform="matrix(0.2387 0 0 0.2530 2043.52 448.20)" font-size="100" font-weight="bold">HYCOM_mean_T</text>
<text transform="matrix(0.2389 0 0 0.2636 2107.82 915.50)" font-size="100" font-weight="bold">RMS_DIFF</text>
<text transform="matrix(0.2275 0 0 0.2636 2087.37 941.60)" font-size="100" font-weight="bold">ARGO_STDV</text>
<text transform="matrix(0.2250 0 0 0.2636 2067.75 967.70)" font-size="100" font-weight="bold">HYCOM_STDV</text>
<text transform="matrix(0.2346 0 0 0.2588 2064.16 1488.18)" font-size="100" font-weight="normal" stroke="#000" stroke-width="3.24">CORRELATION</text>
<rect x="725" y="1640" width="28" height="2.6" fill="#000"/></g>
</svg>
</body></html>
